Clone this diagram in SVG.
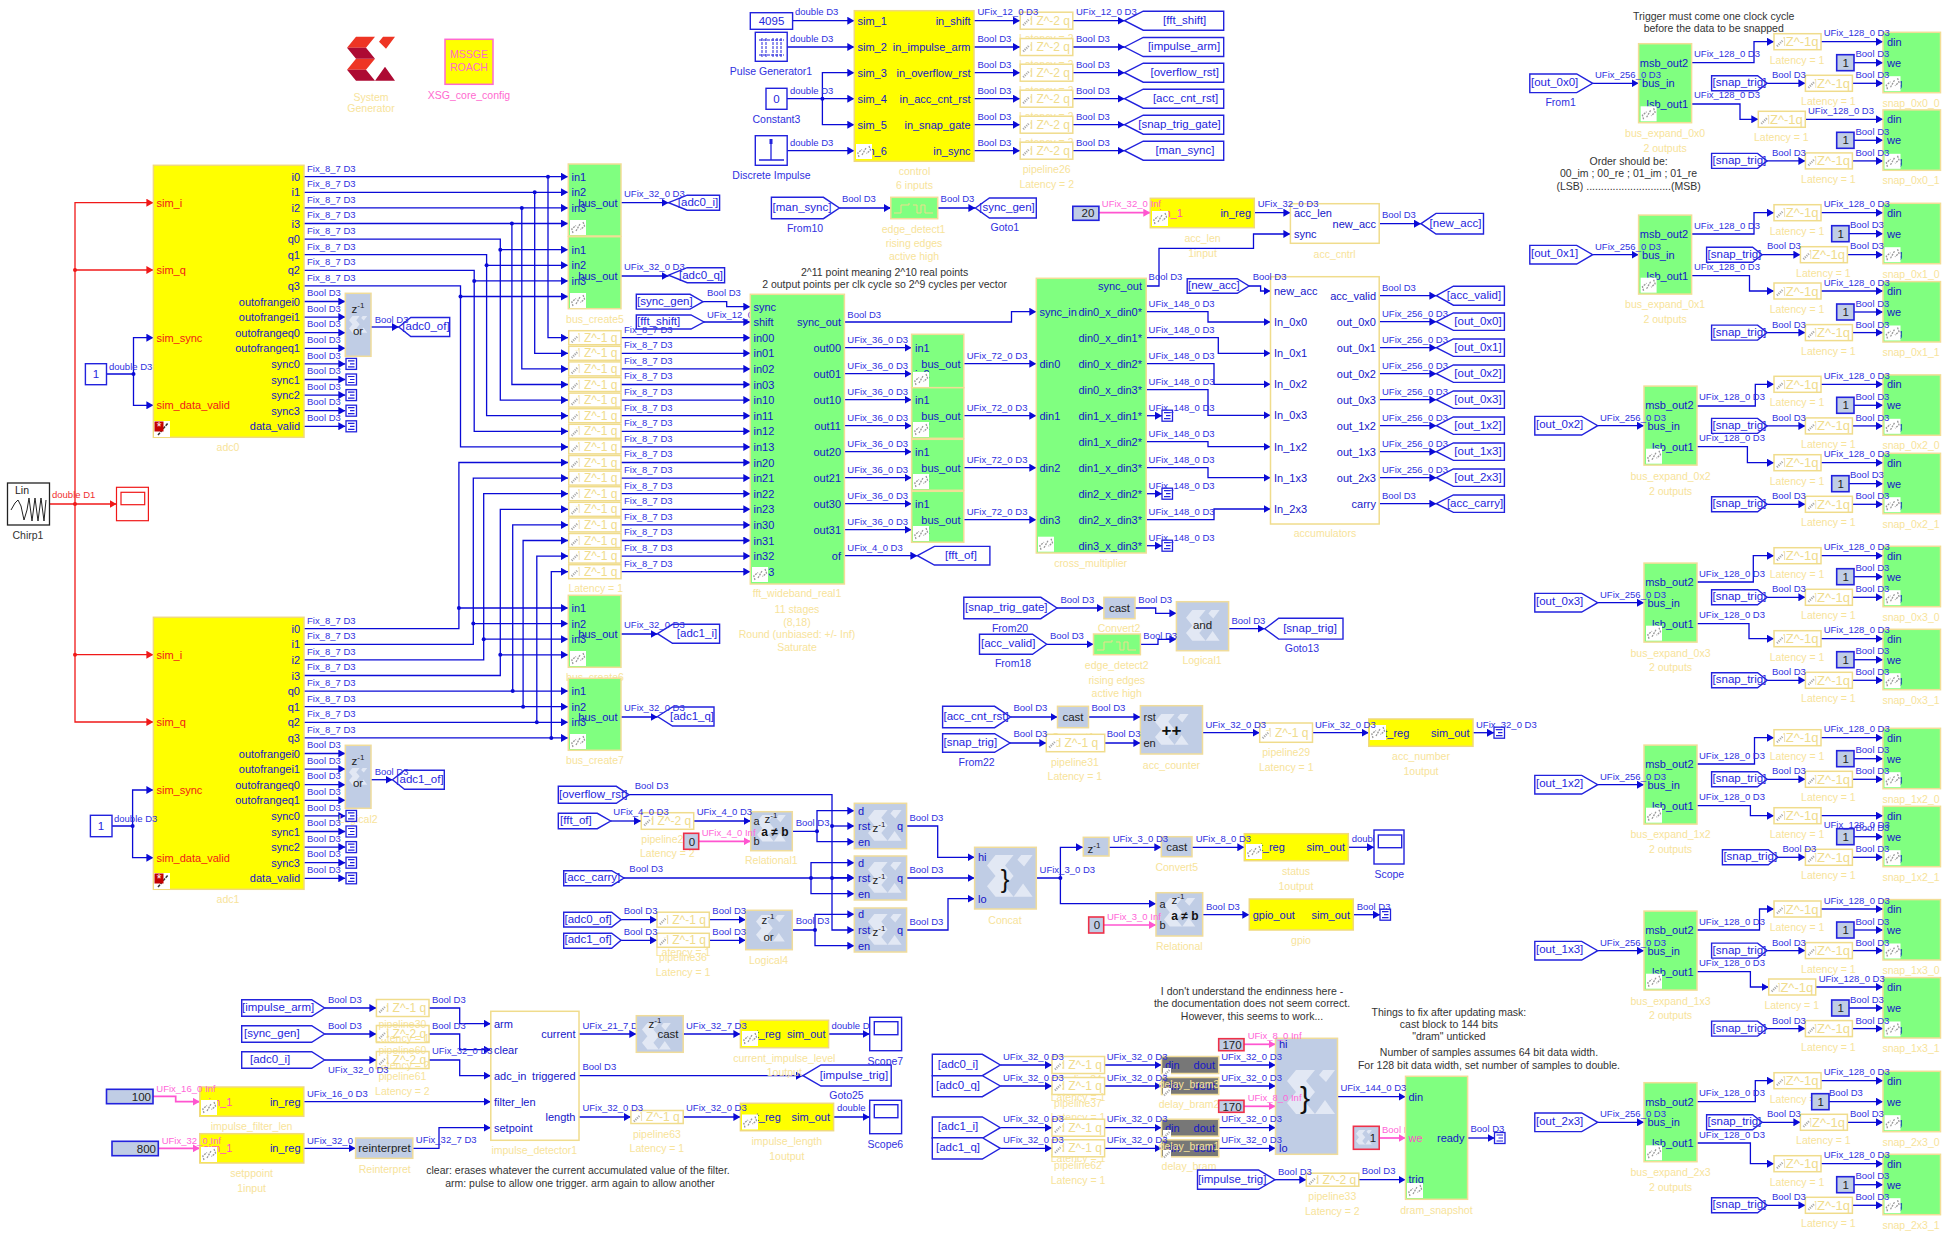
<svg xmlns="http://www.w3.org/2000/svg" width="1954" height="1240" viewBox="0 0 1954 1240">
<style>
text{font-family:"Liberation Sans",Arial,sans-serif;dominant-baseline:central}
.c path{fill:none;stroke:#0a0ad6;stroke-width:1.3;marker-end:url(#ab)}
.cr path{fill:none;stroke:#f01818;stroke-width:1.3;marker-end:url(#ar)}
.cq path{fill:none;stroke:#ff55d0;stroke-width:1.7;marker-end:url(#ap)}
.j{fill:#0a0ad6}
.w text{font-size:9.5px;fill:#3030e0}
.wq text{font-size:9.5px;fill:#ff66d8}
.wr text{font-size:9.5px;fill:#f03030}
.p{font-size:11px;fill:#1515c8}
.e{text-anchor:end}
.o{font-size:11px;fill:#f01818}
.l{font-size:10.5px;fill:#f7e39a;text-anchor:middle}
.b{font-size:10.5px;fill:#3030e0;text-anchor:middle}
.k{font-size:10.5px;fill:#333;text-anchor:middle}
.t{font-size:11.5px;fill:#2525dd;text-anchor:middle}
.s{text-anchor:start}
.z{font-size:12px;fill:#f0dc8c;text-anchor:middle}
.pb + .z{font-size:13px}
.n{font-size:11.5px;fill:#222;text-anchor:middle}
.n.e{text-anchor:end}
.y{fill:#ff0;stroke:#f0d97c;stroke-width:1.5}
.g{fill:#80ff80;stroke:#f2dd96;stroke-width:1.5}
.x{fill:#c0cde5;stroke:#f0dc9a;stroke-width:1.5}
.u{fill:#fff;stroke:#f0dc8c;stroke-width:1.5}
.a{fill:#fff;stroke:#2222dd;stroke-width:1.4}
.f{fill:#c0cde5;stroke:#2222dd;stroke-width:1.6}
.h{fill:#c0cde5;stroke:#ee3048;stroke-width:1.6}
.d{fill:#777;stroke:#f0dc9a;stroke-width:1.5}
.pa{x:0;y:-7px;width:52.3px;height:14px}
.pc{x:0;y:-8.5px;width:52.6px;height:17px}
.pb{x:0;y:-8px;width:47px;height:16px}
.sn{x:0;y:-9.4px;width:57.5px;height:60.4px}
.cn{x:0;y:-8px;width:17.3px;height:16px}
.be{x:0;y:-39.6px;width:53px;height:79px}
.gb{x:0;y:-8.5px;width:57.2px;height:17px}
</style>
<defs>
<marker id="ab" markerUnits="userSpaceOnUse" markerWidth="8" markerHeight="8" refX="7" refY="4" orient="auto"><path d="M0 0 7 4 0 8z" fill="#0a0ad6"/></marker>
<marker id="ar" markerUnits="userSpaceOnUse" markerWidth="8" markerHeight="8" refX="7" refY="4" orient="auto"><path d="M0 0 7 4 0 8z" fill="#f01818"/></marker>
<marker id="ap" markerUnits="userSpaceOnUse" markerWidth="8" markerHeight="8" refX="7" refY="4" orient="auto"><path d="M0 0 7 4 0 8z" fill="#ff55d0"/></marker>
<g id="lk"><rect width="16" height="15" fill="#fff"/><path d="M3 13 1.8 9 6 5.5M13 2l1.5 4-4 3.5M6 11l4-7" fill="none" stroke="#999" stroke-width="1.3" stroke-dasharray="2 1"/></g>
<g id="m"><rect x="0" y="-1" width="8" height="8" fill="#fff"/><path d="M1 6.5 7 .5" fill="none" stroke="#aaa" stroke-width="2.2" stroke-dasharray="1.2 1"/></g>
<path id="sx" d="M9 0H28L19 11H0ZM0 11H19L28 22H9ZM9 22H28L19 33H0ZM0 33H19L28 44H9ZM36 0H48L39 12 32 5ZM28 44 38 30 48 44Z" fill="#e2e8f4"/>
<g id="tm"><rect width="10.5" height="11" fill="#fff" stroke="#2222dd" stroke-width="1.3"/><path d="M2 2.5H8.5M4 5.5H8.5M2 8.5H8.5" stroke="#2222dd" stroke-width="1.2"/></g>
<path id="ed" d="M3 15H10V7H18V5M22 7H26V15H30V7H34V15H42" fill="none" stroke="#f0dc8c" stroke-width="1"/>
</defs>
<rect width="1954" height="1240" fill="#fff"/>
<g id="connectors">
<g class="cr"><path d="M49.7 504H116.5"/><path d="M75 504V202.7H153.4"/><path d="M75 270H153.4"/><path d="M75 504V722H153.4"/><path d="M75 654.7H153.4"/></g>
<circle cx="75" cy="270" r="2" fill="#f01818"/><circle cx="75" cy="504" r="2" fill="#f01818"/><circle cx="75" cy="654.7" r="2" fill="#f01818"/>
<g class="cq">
<path d="M1098.9 212.7H1150.3"/><path d="M153 1096.3H175.7V1101.7H199.8"/><path d="M158.3 1148.3H199.8"/><path d="M698.7 841.3H750.7"/><path d="M1103.7 925H1156"/><path d="M1244 1044.3H1275.5"/><path d="M1244 1106.3H1275.5"/><path d="M1379.2 1138H1405.5"/>
</g>
<g class="c">
<path d="M106.5 374H133.5V337.7H153.4"/><path d="M133.5 374V405.3H153.4"/><path d="M112 826H132.6V790H153.4"/><path d="M132.6 826V857.7H153.4"/>
<path d="M304 176.7H568"/><path d="M548 176.7V337.7H568"/>
<path d="M304 192.3H568"/><path d="M534.7 192.3V353.3H568"/>
<path d="M304 207.9H568"/><path d="M521.8 207.9V368.9H568"/>
<path d="M304 223.5H568"/><path d="M511.9 223.5V384.5H568"/>
<path d="M304 239.1H500.3V400.1H568"/><path d="M500.3 249.7H568"/>
<path d="M304 254.7H486.6V415.7H568"/><path d="M486.6 265.3H568"/>
<path d="M304 270.3H474.2V431.3H568"/><path d="M474.2 280.9H568"/>
<path d="M304 285.9H460.5V446.9H568"/><path d="M460.5 296.5H568"/>
<path d="M304 628.7H458.9V462.5H568"/><path d="M458.9 608H568"/>
<path d="M304 644.3H473.3V478.1H568"/><path d="M473.3 623.6H568"/>
<path d="M304 659.9H483.7V493.7H568"/><path d="M483.7 639.2H568"/>
<path d="M304 675.5H500.3V509.3H568"/><path d="M500.3 654.8H568"/>
<path d="M304 691.1H568"/><path d="M512.7 691.1V524.9H568"/>
<path d="M304 706.7H568"/><path d="M523.1 706.7V540.5H568"/>
<path d="M304 722.3H568"/><path d="M536.8 722.3V556.1H568"/>
<path d="M304 737.9H568"/><path d="M551.3 737.9V571.7H568"/>
<path d="M304 301.5H345.3"/><path d="M304 317.1H345.3"/><path d="M304 332.7H345.3"/><path d="M304 348.3H345.3"/><path d="M304 363.9H345.3"/><path d="M304 379.5H345.3"/><path d="M304 395.1H345.3"/><path d="M304 410.7H345.3"/><path d="M304 426.3H345.3"/>
<path d="M304 753.5H345.3"/><path d="M304 769.1H345.3"/><path d="M304 784.7H345.3"/><path d="M304 800.3H345.3"/><path d="M304 815.9H345.3"/><path d="M304 831.5H345.3"/><path d="M304 847.1H345.3"/><path d="M304 862.7H345.3"/><path d="M304 878.3H345.3"/>
<path d="M371 327H398.8"/><path d="M371 779.7H392.5"/>
<path d="M621 202.7H668.6"/><path d="M621 276H668.6"/><path d="M621 634H657.5"/><path d="M621 717H657.5"/>
<path d="M621 337.7H750.3"/><path d="M621 353.3H750.3"/><path d="M621 368.9H750.3"/><path d="M621 384.5H750.3"/><path d="M621 400.1H750.3"/><path d="M621 415.7H750.3"/><path d="M621 431.3H750.3"/><path d="M621 446.9H750.3"/><path d="M621 462.5H750.3"/><path d="M621 478.1H750.3"/><path d="M621 493.7H750.3"/><path d="M621 509.3H750.3"/><path d="M621 524.9H750.3"/><path d="M621 540.5H750.3"/><path d="M621 556.1H750.3"/><path d="M621 571.7H750.3"/>
<path d="M703 301.7H726.7V306.7H750.3"/><path d="M704 322H750.3"/>
<path d="M792.6 20.7H854.3"/><path d="M787.2 47H854.3"/><path d="M787 98.7H854.3"/><path d="M822.4 98.7V72.7H854.3"/><path d="M822.4 98.7V124.7H854.3"/><path d="M787.2 150.7H854.3"/>
<path d="M974 20.7H1020"/><path d="M974 47H1020"/><path d="M974 72.7H1020"/><path d="M974 98.7H1020"/><path d="M974 124.7H1020"/><path d="M974 150.7H1020"/>
<path d="M1072.8 20.7H1124.6"/><path d="M1072.8 47H1124.6"/><path d="M1072.8 72.7H1124.6"/><path d="M1072.8 98.7H1124.6"/><path d="M1072.8 124.7H1124.6"/><path d="M1072.8 150.7H1124.6"/>
<path d="M839.4 208H890.8"/><path d="M937.7 208H975.4"/>
<path d="M1254.3 212.7H1290.4"/><path d="M1379.2 223.7H1421"/>
<path d="M1146 286H1159V248.3H1253.5V234H1290.4"/>
<path d="M844.4 322H1011.5V311.7H1036.3"/>
<path d="M844.4 347.7H911.6"/><path d="M844.4 373.7H911.6"/><path d="M844.4 399.7H911.6"/><path d="M844.4 425.7H911.6"/><path d="M844.4 451.7H911.6"/><path d="M844.4 477.7H911.6"/><path d="M844.4 503.7H911.6"/><path d="M844.4 529.7H911.6"/><path d="M844.4 555.7H917.4"/>
<path d="M963.8 363.7H1036.3"/><path d="M963.8 415.7H1036.3"/><path d="M963.8 467.7H1036.3"/><path d="M963.8 519.7H1036.3"/>
<path d="M1146.2 311.7H1208V322H1270.5"/><path d="M1146.2 337.7H1218.3V353.3H1270.5"/><path d="M1146.2 363.7H1214V384.3H1270.5"/><path d="M1146.2 389.7H1208V415.3H1270.5"/><path d="M1146.2 415.7H1162"/><path d="M1146.2 441.7H1208V446.7H1270.5"/><path d="M1146.2 467.7H1208V477.7H1270.5"/><path d="M1146.2 493.7H1162"/><path d="M1146.2 519.7H1214V509H1270.5"/><path d="M1146.2 545.7H1162"/>
<path d="M1249 286H1260.6V291H1270.5"/>
<path d="M1379.2 295.7H1436.4"/><path d="M1379.2 321.7H1436.4"/><path d="M1379.2 347.7H1436.4"/><path d="M1379.2 373.7H1436.4"/><path d="M1379.2 399.7H1436.4"/><path d="M1379.2 425.7H1436.4"/><path d="M1379.2 451.7H1436.4"/><path d="M1379.2 477.7H1436.4"/><path d="M1379.2 503.7H1436.4"/>
<path d="M1057 608H1103.9"/><path d="M1135 608H1155.7V613.3H1176.4"/><path d="M1046.7 644.3H1093.5"/><path d="M1140.4 644.3H1158V639.3H1176.4"/><path d="M1228.6 628.7H1264.7"/>
<path d="M1010.6 717H1057.5"/><path d="M1088.5 717H1140.4"/><path d="M1010 743H1046.3"/><path d="M1104.7 743H1140.4"/><path d="M1202.5 732.7H1259.7"/><path d="M1312.5 732.7H1368.8"/><path d="M1473 732.7H1494"/>
<path d="M629 794.7H832V930H854.3"/><path d="M832 826H854.3"/><path d="M832 877.7H854.3"/>
<path d="M610.7 821H641"/><path d="M693.7 821H750.7"/><path d="M792.3 831.3H817V810.7H854.3"/><path d="M817 831.3V841.7H854.3"/>
<path d="M624 878H854.3"/><path d="M811 878V862.7H854.3"/><path d="M811 878V893.7H854.3"/>
<path d="M621 919.7H657"/><path d="M621 940.3H657"/><path d="M709.3 919.7H745.7"/><path d="M709.3 940.3H745.7"/>
<path d="M792.3 930H815V914.3H854.3"/><path d="M815 930V945.7H854.3"/>
<path d="M906.6 826H937.7V857.3H974.6"/><path d="M906.6 878H974.6"/><path d="M906.6 930H948V898.7H974.6"/>
<path d="M1036.3 878H1060.4V847.3H1083"/><path d="M1060.4 878V903.7H1156"/><path d="M1109 847.3H1161.3"/><path d="M1192 847.3H1244.3"/><path d="M1348.3 847.3H1374"/>
<path d="M1202.7 914.7H1249.3"/><path d="M1353.3 914.7H1380"/>
<path d="M324.6 1008H376.4"/><path d="M324.6 1034H376.4"/><path d="M324.6 1060H376.4"/>
<path d="M429 1008H459.7V1023.7H490.8"/><path d="M429 1034H459.7V1049.7H490.8"/><path d="M429 1060H459.7V1075.7H490.8"/>
<path d="M303.8 1101.7H490.8"/><path d="M303.8 1148.3H355.6"/><path d="M412.8 1148.3H439V1127.7H490.8"/>
<path d="M579 1034H636.3"/><path d="M683.2 1034H740.4"/><path d="M828.6 1034H869.7"/>
<path d="M579 1075.7H803"/><path d="M579 1117H630.9"/><path d="M683.2 1117H740.4"/><path d="M833.6 1117H869.7"/>
<path d="M1000.3 1065H1052"/><path d="M1000.3 1086H1052"/><path d="M1000.3 1127.7H1052"/><path d="M1000.3 1148.3H1052"/>
<path d="M1104.7 1065H1161.5"/><path d="M1104.7 1086H1161.5"/><path d="M1104.7 1127.7H1161.5"/><path d="M1104.7 1148.3H1161.5"/>
<path d="M1218.7 1065H1275.5"/><path d="M1218.7 1086H1275.5"/><path d="M1218.7 1127.7H1275.5"/><path d="M1218.7 1148.3H1275.5"/>
<path d="M1275 1179.7H1306.3"/><path d="M1358.8 1179.7H1405.5"/><path d="M1337.5 1096.7H1405.5"/><path d="M1467.6 1138H1494.7"/>
<path d="M1592.7 83.3H1638.6"/><path d="M1592.7 254.7H1638.6"/><path d="M1597.7 425.7H1644"/><path d="M1597.7 602.7H1644"/><path d="M1597.7 784.7H1644"/><path d="M1597.7 950.7H1644"/><path d="M1597.7 1122.3H1644"/>
<path d="M1691.6 62.7H1754V41.7H1774"/><path d="M1691.6 104H1740V119.3H1758.3"/>
<path d="M1691.6 234H1754V212.7H1774"/><path d="M1691.6 275.7H1749.5V291H1774"/>
<path d="M1696.6 406H1755.3V384.3H1774"/><path d="M1696.6 446.7H1747.4V462.7H1774"/>
<path d="M1696.6 582H1753.3V555.7H1774"/><path d="M1696.6 623.7H1749V638.7H1774"/>
<path d="M1696.6 764H1754.5V737.7H1774"/><path d="M1696.6 805.7H1750.4V815.7H1774"/>
<path d="M1696.6 930H1759.5V909H1774"/><path d="M1696.6 971.7H1750.4V987H1768.7"/>
<path d="M1696.6 1101.7H1755.3V1080.7H1774"/><path d="M1696.6 1143H1750.4V1163.7H1774"/>
<g transform="translate(0,41.7)"><path d="M1821 0H1883"/><path d="M1854 21H1883"/><path d="M1767 41.6H1805.4"/><path d="M1852.4 41.6H1883"/></g>
<g transform="translate(0,119.3)"><path d="M1805.3 0H1883"/><path d="M1854 21H1883"/><path d="M1767 41.6H1805.4"/><path d="M1852.4 41.6H1883"/></g>
<g transform="translate(0,212.7)"><path d="M1821 0H1883"/><path d="M1849 21H1883"/><path d="M1762 42H1800.4"/><path d="M1847.4 42H1883"/></g>
<g transform="translate(0,291)"><path d="M1821 0H1883"/><path d="M1854 21H1883"/><path d="M1767 41.6H1805.4"/><path d="M1852.4 41.6H1883"/></g>
<g transform="translate(0,384.3)"><path d="M1821 0H1883"/><path d="M1854 21H1883"/><path d="M1767 41.6H1805.4"/><path d="M1852.4 41.6H1883"/></g>
<g transform="translate(0,462.7)"><path d="M1821 0H1883"/><path d="M1849 21H1883"/><path d="M1767 41.6H1805.4"/><path d="M1852.4 41.6H1883"/></g>
<g transform="translate(0,555.7)"><path d="M1821 0H1883"/><path d="M1854 21H1883"/><path d="M1767 41.6H1805.4"/><path d="M1852.4 41.6H1883"/></g>
<g transform="translate(0,638.7)"><path d="M1821 0H1883"/><path d="M1854 21H1883"/><path d="M1767 41.6H1805.4"/><path d="M1852.4 41.6H1883"/></g>
<g transform="translate(0,737.7)"><path d="M1821 0H1883"/><path d="M1854 21H1883"/><path d="M1767 41.6H1805.4"/><path d="M1852.4 41.6H1883"/></g>
<g transform="translate(0,815.7)"><path d="M1821 0H1883"/><path d="M1854 21H1883"/><path d="M1778 41.6H1805.4"/><path d="M1852.4 41.6H1883"/></g>
<g transform="translate(0,909)"><path d="M1821 0H1883"/><path d="M1854 21H1883"/><path d="M1767 41.6H1805.4"/><path d="M1852.4 41.6H1883"/></g>
<g transform="translate(0,987)"><path d="M1815.7 0H1883"/><path d="M1849 21H1883"/><path d="M1767 41.6H1805.4"/><path d="M1852.4 41.6H1883"/></g>
<g transform="translate(0,1080.7)"><path d="M1821 0H1883"/><path d="M1829 21H1883"/><path d="M1762 41.6H1800.4"/><path d="M1847.4 41.6H1883"/></g>
<g transform="translate(0,1163.7)"><path d="M1821 0H1883"/><path d="M1854 21H1883"/><path d="M1767 41.6H1805.4"/><path d="M1852.4 41.6H1883"/></g>
</g>
<g class="j">
<circle cx="133.5" cy="374" r="2"/><circle cx="132.6" cy="826" r="2"/>
<circle cx="548" cy="176.7" r="2"/><circle cx="534.7" cy="192.3" r="2"/><circle cx="521.8" cy="207.9" r="2"/><circle cx="511.9" cy="223.5" r="2"/><circle cx="500.3" cy="249.7" r="2"/><circle cx="486.6" cy="265.3" r="2"/><circle cx="474.2" cy="280.9" r="2"/><circle cx="460.5" cy="296.5" r="2"/>
<circle cx="458.9" cy="608" r="2"/><circle cx="473.3" cy="623.6" r="2"/><circle cx="483.7" cy="639.2" r="2"/><circle cx="500.3" cy="654.8" r="2"/><circle cx="512.7" cy="691.1" r="2"/><circle cx="523.1" cy="706.7" r="2"/><circle cx="536.8" cy="722.3" r="2"/><circle cx="551.3" cy="737.9" r="2"/>
<circle cx="822.4" cy="98.7" r="2"/><circle cx="832" cy="826" r="2"/><circle cx="832" cy="878" r="2"/><circle cx="817" cy="831.3" r="2"/><circle cx="811" cy="878" r="2"/><circle cx="815" cy="930" r="2"/><circle cx="1060.4" cy="878" r="2"/>
</g>
<text x="707" y="314" style="font-size:9.5px;fill:#3030e0">UFix_12_0 D3</text>
<text x="582.4" y="1025" style="font-size:9.5px;fill:#3030e0">UFix_21_7 D3</text>
<text x="831.5" y="1025" style="font-size:9.5px;fill:#3030e0">double D3</text>
<text x="837" y="1107.7" style="font-size:9.5px;fill:#3030e0">double D3</text>
<text x="1351.7" y="838" style="font-size:9.5px;fill:#3030e0">double D3</text>
<text x="307" y="1140" style="font-size:9.5px;fill:#3030e0">UFix_32_0 D3</text>
<text x="1382" y="1129" style="font-size:9.5px;fill:#ff66d8">Bool D3</text>
</g>

<g id="system_generator"><g transform="translate(347,36.7)"><path d="M9 0H28L19 11H0ZM9 22H28L19 33H0ZM36 0H48L39 12 32 5Z" fill="#ee3524"/><path d="M0 11H19L28 22H9ZM0 33H19L28 44H9ZM28 44 38 30 48 44Z" fill="#ad0a33"/></g><text class="l" x="371" y="96.7">System</text><text class="l" x="371" y="108.3">Generator</text></g>
<g id="xsg_core_config"><rect x="445" y="39.3" width="48" height="45" fill="#ff0" stroke="#ff69d0" stroke-width="1.5"/><text x="469" y="54" style="font-size:10.5px;fill:#ff69d0;text-anchor:middle">MSSGE</text><text x="469" y="67" style="font-size:10.5px;fill:#ff69d0;text-anchor:middle">ROACH</text><text x="469" y="94.7" style="font-size:10.5px;fill:#ff69d0;text-anchor:middle">XSG_core_config</text></g>

<g id="chirp1"><rect x="7.5" y="483" width="42" height="42" fill="#fff" stroke="#222" stroke-width="1.3"/><text x="15" y="490" style="font-size:10.5px;fill:#222">Lin</text><path d="M11 510 15 503 18 500 21 506 24 520 27 510 29 498 32 521 35 498 38 521 41 498 44 521 46 500" fill="none" stroke="#222"/><text class="k" x="28" y="534.5">Chirp1</text></g>
<g id="scope_chirp"><rect x="116.5" y="487.3" width="31.9" height="33.4" fill="#fff" stroke="#f01818" stroke-width="1.2"/><rect x="121" y="492.3" width="23.7" height="12.4" fill="#fff" stroke="#f01818" stroke-width="1.2"/></g>

<g id="adc0"><rect class="y" x="153.4" y="165.3" width="150.6" height="272"/><g class="o"><text x="156.5" y="202.7">sim_i</text><text x="156.5" y="270">sim_q</text><text x="156.5" y="337.7">sim_sync</text><text x="156.5" y="405.3">sim_data_valid</text></g>
<g class="p e"><text x="300" y="176.7">i0</text><text x="300" y="192.3">i1</text><text x="300" y="207.9">i2</text><text x="300" y="223.5">i3</text><text x="300" y="239.1">q0</text><text x="300" y="254.7">q1</text><text x="300" y="270.3">q2</text><text x="300" y="285.9">q3</text><text x="300" y="301.5">outofrangei0</text><text x="300" y="317.1">outofrangei1</text><text x="300" y="332.7">outofrangeq0</text><text x="300" y="348.3">outofrangeq1</text><text x="300" y="363.9">sync0</text><text x="300" y="379.5">sync1</text><text x="300" y="395.1">sync2</text><text x="300" y="410.7">sync3</text><text x="300" y="426.3">data_valid</text></g>
<rect x="154" y="421" width="16" height="16" fill="#fff"/><path d="M158 435 168 423" stroke="#333" stroke-width="1.5" stroke-dasharray="3 1"/><rect x="154.5" y="421.5" width="9" height="10" fill="#c40000"/><text x="159" y="427" style="font-size:12px;fill:#fff;text-anchor:middle">*</text><text class="l" x="228" y="447.3">adc0</text></g>
<g id="adc1"><rect class="y" x="153.4" y="617.3" width="150.6" height="272"/><g class="o"><text x="156.5" y="654.7">sim_i</text><text x="156.5" y="722">sim_q</text><text x="156.5" y="790">sim_sync</text><text x="156.5" y="857.7">sim_data_valid</text></g>
<g class="p e"><text x="300" y="628.7">i0</text><text x="300" y="644.3">i1</text><text x="300" y="659.9">i2</text><text x="300" y="675.5">i3</text><text x="300" y="691.1">q0</text><text x="300" y="706.7">q1</text><text x="300" y="722.3">q2</text><text x="300" y="737.9">q3</text><text x="300" y="753.5">outofrangei0</text><text x="300" y="769.1">outofrangei1</text><text x="300" y="784.7">outofrangeq0</text><text x="300" y="800.3">outofrangeq1</text><text x="300" y="815.9">sync0</text><text x="300" y="831.5">sync1</text><text x="300" y="847.1">sync2</text><text x="300" y="862.7">sync3</text><text x="300" y="878.3">data_valid</text></g>
<rect x="154" y="873" width="16" height="16" fill="#fff"/><path d="M158 887 168 875" stroke="#333" stroke-width="1.5" stroke-dasharray="3 1"/><rect x="154.5" y="873.5" width="9" height="10" fill="#c40000"/><text x="159" y="879" style="font-size:12px;fill:#fff;text-anchor:middle">*</text><text class="l" x="228" y="899.3">adc1</text></g>
<g id="const_adc0"><rect class="a" x="85.4" y="363.7" width="21.1" height="21"/><text class="t" x="96" y="374">1</text></g>
<g id="const_adc1"><rect class="a" x="90.4" y="815.3" width="21.6" height="21.4"/><text class="t" x="101" y="826">1</text></g>
<g id="term_a"><use href="#tm" x="346" y="358.4"/><use href="#tm" x="346" y="374"/><use href="#tm" x="346" y="389.6"/><use href="#tm" x="346" y="405.2"/><use href="#tm" x="346" y="420.8"/></g>
<g id="term_b"><text class="l" x="358" y="818.7">Logical2</text><use href="#tm" x="346" y="810.4"/><use href="#tm" x="346" y="826"/><use href="#tm" x="346" y="841.6"/><use href="#tm" x="346" y="857.2"/><use href="#tm" x="346" y="872.8"/></g>
<g id="logical0"><rect class="x" x="345.3" y="293.3" width="25.7" height="63"/><use href="#sx" transform="translate(349,316) scale(.38)"/><text class="n" x="358" y="309">z<tspan dy="-4" font-size="8">-1</tspan></text><text class="n" x="358" y="331">or</text></g>
<g id="logical2"><rect class="x" x="345.3" y="745.3" width="25.7" height="63"/><use href="#sx" transform="translate(349,768) scale(.38)"/><text class="n" x="358" y="761">z<tspan dy="-4" font-size="8">-1</tspan></text><text class="n" x="358" y="783">or</text></g>
<g id="goto_adc0_of"><path class="a" d="M398.8 327l12-9.5h38.9v19h-38.9z"/><text class="t" x="426" y="326">[adc0_of]</text></g>
<g id="goto_adc1_of"><path class="a" d="M392.5 779.7l12-9.5h39.8v19h-39.8z"/><text class="t" x="420" y="778.7">[adc1_of]</text></g>

<g id="bus_create4"><rect class="g" x="568.3" y="164" width="52.7" height="72"/><g class="p"><text x="571.5" y="176.7">in1</text><text x="571.5" y="192.3">in2</text><text x="571.5" y="207.9">in3</text></g><text class="p e" x="617.5" y="202.7">bus_out</text><use href="#lk" x="570" y="220"/></g>
<g id="bus_create5"><rect class="g" x="568.3" y="236.7" width="52.7" height="72"/><g class="p"><text x="571.5" y="249.7">in1</text><text x="571.5" y="265.3">in2</text><text x="571.5" y="280.9">in3</text></g><text class="p e" x="617.5" y="276">bus_out</text><use href="#lk" x="570" y="293"/><text class="l" x="595" y="318.7">bus_create5</text></g>
<g id="bus_create6"><text class="l" x="595" y="677">bus_create6</text><rect class="g" x="568.3" y="595.3" width="52.7" height="72"/><g class="p"><text x="571.5" y="608">in1</text><text x="571.5" y="623.6">in2</text><text x="571.5" y="639.2">in3</text></g><text class="p e" x="617.5" y="634">bus_out</text><use href="#lk" x="570" y="651"/></g>
<g id="bus_create7"><rect class="g" x="568.3" y="678.3" width="52.7" height="72"/><g class="p"><text x="571.5" y="691.1">in1</text><text x="571.5" y="706.7">in2</text><text x="571.5" y="722.3">in3</text></g><text class="p e" x="617.5" y="717">bus_out</text><use href="#lk" x="570" y="734"/><text class="l" x="595" y="760.3">bus_create7</text></g>
<g id="goto_adc0_i"><path class="a" d="M668.6 202.7l18.6-7.5h32.4v15h-32.4z"/><text class="t" x="698" y="202">[adc0_i]</text></g>
<g id="goto_adc0_q"><path class="a" d="M668.6 275.2l18.6-7.5h37.4v15h-37.4z"/><text class="t" x="701" y="274.5">[adc0_q]</text></g>
<g id="goto_adc1_i"><path class="a" d="M657.5 633.7l15-9.4h47.1v19h-47.1z"/><text class="t" x="697" y="632.5">[adc1_i]</text></g>
<g id="goto_adc1_q"><path class="a" d="M657.5 716.5l15-9.5h41.5v19h-41.5z"/><text class="t" x="692" y="715.5">[adc1_q]</text></g>

<g id="pipes_a">
<g transform="translate(568.7,337.7)"><rect class="u pa"/><text class="z" x="27">d Z^-1 q</text><use href="#m" x="2" y="-2"/></g>
<g transform="translate(568.7,353.3)"><rect class="u pa"/><text class="z" x="27">d Z^-1 q</text><use href="#m" x="2" y="-2"/></g>
<g transform="translate(568.7,368.9)"><rect class="u pa"/><text class="z" x="27">d Z^-1 q</text><use href="#m" x="2" y="-2"/></g>
<g transform="translate(568.7,384.5)"><rect class="u pa"/><text class="z" x="27">d Z^-1 q</text><use href="#m" x="2" y="-2"/></g>
<g transform="translate(568.7,400.1)"><rect class="u pa"/><text class="z" x="27">d Z^-1 q</text><use href="#m" x="2" y="-2"/></g>
<g transform="translate(568.7,415.7)"><rect class="u pa"/><text class="z" x="27">d Z^-1 q</text><use href="#m" x="2" y="-2"/></g>
<g transform="translate(568.7,431.3)"><rect class="u pa"/><text class="z" x="27">d Z^-1 q</text><use href="#m" x="2" y="-2"/></g>
<g transform="translate(568.7,446.9)"><rect class="u pa"/><text class="z" x="27">d Z^-1 q</text><use href="#m" x="2" y="-2"/></g>
<g transform="translate(568.7,462.5)"><rect class="u pa"/><text class="z" x="27">d Z^-1 q</text><use href="#m" x="2" y="-2"/></g>
<g transform="translate(568.7,478.1)"><rect class="u pa"/><text class="z" x="27">d Z^-1 q</text><use href="#m" x="2" y="-2"/></g>
<g transform="translate(568.7,493.7)"><rect class="u pa"/><text class="z" x="27">d Z^-1 q</text><use href="#m" x="2" y="-2"/></g>
<g transform="translate(568.7,509.3)"><rect class="u pa"/><text class="z" x="27">d Z^-1 q</text><use href="#m" x="2" y="-2"/></g>
<g transform="translate(568.7,524.9)"><rect class="u pa"/><text class="z" x="27">d Z^-1 q</text><use href="#m" x="2" y="-2"/></g>
<g transform="translate(568.7,540.5)"><rect class="u pa"/><text class="z" x="27">d Z^-1 q</text><use href="#m" x="2" y="-2"/></g>
<g transform="translate(568.7,556.1)"><rect class="u pa"/><text class="z" x="27">d Z^-1 q</text><use href="#m" x="2" y="-2"/></g>
<g transform="translate(568.7,571.7)"><rect class="u pa"/><text class="z" x="27">d Z^-1 q</text><use href="#m" x="2" y="-2"/><text class="l" x="27" y="16">Latency = 1</text></g>
</g>

<g id="const_4095"><rect class="a" x="750.3" y="12.7" width="42.3" height="16.6"/><text class="t" x="771.5" y="20.7">4095</text></g>
<g id="pulse_generator1"><rect class="a" x="755.3" y="32.3" width="31.9" height="29"/><path d="M759 40H784M759 55H784M762 38V58M766 38V58M773 38V58M777 38V58M781 38V58" stroke="#2222dd" fill="none" stroke-dasharray="3 1"/><text class="b" x="771" y="71.3">Pulse Generator1</text></g>
<g id="constant3"><rect class="a" x="766" y="88.3" width="21" height="21"/><text class="t" x="776.5" y="98.7">0</text><text class="b" x="776.4" y="119.3">Constant3</text></g>
<g id="discrete_impulse"><rect class="a" x="755.3" y="135.7" width="31.9" height="29.6"/><path d="M771 142V160M759 160H784" stroke="#2222dd" stroke-width="1.3" fill="none"/><rect x="769.5" y="139" width="3" height="5" fill="#2222dd"/><text class="b" x="771.4" y="175.3">Discrete  Impulse</text></g>
<g id="control"><rect class="y" x="854.3" y="10.7" width="119.7" height="150.6"/><g class="p"><text x="857.5" y="20.7">sim_1</text><text x="857.5" y="47">sim_2</text><text x="857.5" y="72.7">sim_3</text><text x="857.5" y="98.7">sim_4</text><text x="857.5" y="124.7">sim_5</text><text x="857.5" y="150.7">sim_6</text></g><g class="p e"><text x="970.5" y="20.7">in_shift</text><text x="970.5" y="47">in_impulse_arm</text><text x="970.5" y="72.7">in_overflow_rst</text><text x="970.5" y="98.7">in_acc_cnt_rst</text><text x="970.5" y="124.7">in_snap_gate</text><text x="970.5" y="150.7">in_sync</text></g><use href="#lk" x="856" y="144"/><text class="l" x="914.5" y="170.7">control</text><text class="l" x="914.5" y="185.3">6 inputs</text></g>
<g id="pipeline21" transform="translate(1020.2,20.7)"><text class="l" x="26" y="17">Latency = 2</text><rect class="u pc"/><text class="z" x="28">d Z^-2 q</text><use href="#m" x="2" y="-2"/></g>
<g id="pipeline22" transform="translate(1020.2,47)"><text class="l" x="26" y="17">Latency = 2</text><rect class="u pc"/><text class="z" x="28">d Z^-2 q</text><use href="#m" x="2" y="-2"/></g>
<g id="pipeline23" transform="translate(1020.2,72.7)"><text class="l" x="26" y="17">Latency = 2</text><rect class="u pc"/><text class="z" x="28">d Z^-2 q</text><use href="#m" x="2" y="-2"/></g>
<g id="pipeline24" transform="translate(1020.2,98.7)"><text class="l" x="26" y="17">Latency = 2</text><rect class="u pc"/><text class="z" x="28">d Z^-2 q</text><use href="#m" x="2" y="-2"/></g>
<g id="pipeline25" transform="translate(1020.2,124.7)"><text class="l" x="26" y="17">Latency = 2</text><rect class="u pc"/><text class="z" x="28">d Z^-2 q</text><use href="#m" x="2" y="-2"/></g>
<g id="pipeline26" transform="translate(1020.2,150.7)"><rect class="u pc"/><text class="z" x="28">d Z^-2 q</text><use href="#m" x="2" y="-2"/><text class="l" x="26.5" y="18">pipeline26</text><text class="l" x="26.5" y="33">Latency = 2</text></g>
<g id="goto_fft_shift"><path class="a" d="M1124.6 20.7l18.6-9.5h80.5v19h-80.5z"/><text class="t" x="1184.7" y="19.5">[fft_shift]</text></g>
<g id="goto_impulse_arm"><path class="a" d="M1124.6 47l18.6-9.5h80.5v19h-80.5z"/><text class="t" x="1184" y="45.5">[impulse_arm]</text></g>
<g id="goto_overflow_rst"><path class="a" d="M1124.6 72.7l18.6-9.5h80.5v19h-80.5z"/><text class="t" x="1184.7" y="71.5">[overflow_rst]</text></g>
<g id="goto_acc_cnt_rst"><path class="a" d="M1124.6 98.7l18.6-9.5h80.5v19h-80.5z"/><text class="t" x="1185.5" y="97.5">[acc_cnt_rst]</text></g>
<g id="goto_snap_trig_gate"><path class="a" d="M1124.6 124.7l18.6-9.5h80.5v19h-80.5z"/><text class="t" x="1179.5" y="123.5">[snap_trig_gate]</text></g>
<g id="goto_man_sync"><path class="a" d="M1124.6 150.7l18.6-9.5h80.5v19h-80.5z"/><text class="t" x="1185" y="149.5">[man_sync]</text></g>

<g id="from10"><path class="a" d="M771.4 197.3h52l16 10.7-16 10.7h-52z"/><text class="t" x="802" y="206.5">[man_sync]</text><text class="b" x="805" y="228.3">From10</text></g>
<g id="edge_detect1"><rect class="g" x="890.8" y="197.3" width="46.9" height="21.4"/><use href="#ed" x="891" y="198"/><text class="l" x="913.6" y="228.7">edge_detect1</text><text class="l" x="914" y="242.7">rising edges</text><text class="l" x="914" y="255.7">active high</text></g>
<g id="goto1"><path class="a" d="M975.4 208l14-10h46.9v20h-46.9z"/><text class="t" x="1007" y="206.5">[sync_gen]</text><text class="b" x="1004.8" y="227.3">Goto1</text></g>
<g id="const20"><rect class="f" x="1072.8" y="206.3" width="26.1" height="14"/><text class="n" x="1088" y="213">20</text></g>
<g id="acc_len"><rect class="y" x="1150.3" y="198.3" width="104" height="29.4"/><text class="p" x="1153.5" y="212.7" style="fill:#ff4ec8">sim_1</text><text class="p e" x="1251" y="212.7">in_reg</text><use href="#lk" x="1152" y="211"/><text class="l" x="1202.5" y="237.7">acc_len</text><text class="l" x="1202.5" y="253">1input</text></g>
<g id="acc_cntrl"><rect class="u" x="1290.4" y="203.7" width="88.8" height="39.6"/><g class="p"><text x="1294" y="212.7">acc_len</text><text x="1294" y="234">sync</text></g><text class="p e" x="1376" y="223.7">new_acc</text><text class="l" x="1334.6" y="253.7">acc_cntrl</text></g>
<g id="goto_new_acc"><path class="a" d="M1421 223.7l15-10.3h47.5v20.6h-47.5z"/><text class="t" x="1455.5" y="222.5">[new_acc]</text></g>
<text class="k" x="884.6" y="271.7">2^11 point meaning 2^10 real points</text>
<text class="k" x="884.6" y="284.3">2 output points per clk cycle so 2^9 cycles per vector</text>
<g id="from_sync_gen"><path class="a" d="M636.3 294.3h53.7l13 7.4-13 7.4h-53.7z"/><text class="t s" x="637" y="301">[sync_gen]</text></g>
<g id="from_fft_shift"><path class="a" d="M636.3 315h54.7l13 7-13 7h-54.7z"/><text class="t s" x="637" y="321">[fft_shift]</text></g>
<g id="fft_wideband_real1"><rect class="g" x="750.3" y="294.3" width="94.1" height="289.7"/><g class="p"><text x="753.5" y="306.7">sync</text><text x="753.5" y="322">shift</text><text x="753.5" y="337.7">in00</text><text x="753.5" y="353.3">in01</text><text x="753.5" y="368.9">in02</text><text x="753.5" y="384.5">in03</text><text x="753.5" y="400.1">in10</text><text x="753.5" y="415.7">in11</text><text x="753.5" y="431.3">in12</text><text x="753.5" y="446.9">in13</text><text x="753.5" y="462.5">in20</text><text x="753.5" y="478.1">in21</text><text x="753.5" y="493.7">in22</text><text x="753.5" y="509.3">in23</text><text x="753.5" y="524.9">in30</text><text x="753.5" y="540.5">in31</text><text x="753.5" y="556.1">in32</text><text x="753.5" y="571.7">in33</text></g><g class="p e"><text x="841" y="322">sync_out</text><text x="841" y="347.7">out00</text><text x="841" y="373.7">out01</text><text x="841" y="399.7">out10</text><text x="841" y="425.7">out11</text><text x="841" y="451.7">out20</text><text x="841" y="477.7">out21</text><text x="841" y="503.7">out30</text><text x="841" y="529.7">out31</text><text x="841" y="555.7">of</text></g><use href="#lk" x="752" y="567"/><text class="l" x="797" y="593.3">fft_wideband_real1</text><text class="l" x="797" y="608.7">11 stages</text><text class="l" x="797" y="621.7">(8,18)</text><text class="l" x="797" y="634.3">Round  (unbiased: +/- Inf)</text><text class="l" x="797" y="646.7">Saturate</text></g>
<g id="bus_create0"><rect class="g" x="911.6" y="334.3" width="52.2" height="53.4"/><text class="p" x="915" y="347.7">in1</text><text class="p" x="915" y="373.7">in2</text><text class="p e" x="960.5" y="363.7">bus_out</text><use href="#lk" x="913" y="372"/></g>
<g id="bus_create1"><rect class="g" x="911.6" y="387.7" width="52.2" height="50.6"/><text class="p" x="915" y="399.7">in1</text><text class="p" x="915" y="425.7">in2</text><text class="p e" x="960.5" y="415.7">bus_out</text><use href="#lk" x="913" y="422"/></g>
<g id="bus_create2"><rect class="g" x="911.6" y="439.3" width="52.2" height="51"/><text class="p" x="915" y="451.7">in1</text><text class="p" x="915" y="477.7">in2</text><text class="p e" x="960.5" y="467.7">bus_out</text><use href="#lk" x="913" y="474"/></g>
<g id="bus_create3"><rect class="g" x="911.6" y="491.3" width="52.2" height="51"/><text class="p" x="915" y="503.7">in1</text><text class="p" x="915" y="529.7">in2</text><text class="p e" x="960.5" y="519.7">bus_out</text><use href="#lk" x="913" y="526"/></g>
<g id="goto_fft_of"><path class="a" d="M917.4 555.7l17-9.3h55.5v18.6h-55.5z"/><text class="t" x="961" y="554.5">[fft_of]</text></g>
<g id="cross_multiplier"><rect class="g" x="1036.3" y="278.3" width="109.9" height="274.7"/><g class="p"><text x="1039.5" y="311.7">sync_in</text><text x="1039.5" y="363.7">din0</text><text x="1039.5" y="415.7">din1</text><text x="1039.5" y="467.7">din2</text><text x="1039.5" y="519.7">din3</text></g><g class="p e"><text x="1142" y="286">sync_out</text><text x="1142" y="311.7">din0_x_din0*</text><text x="1142" y="337.7">din0_x_din1*</text><text x="1142" y="363.7">din0_x_din2*</text><text x="1142" y="389.7">din0_x_din3*</text><text x="1142" y="415.7">din1_x_din1*</text><text x="1142" y="441.7">din1_x_din2*</text><text x="1142" y="467.7">din1_x_din3*</text><text x="1142" y="493.7">din2_x_din2*</text><text x="1142" y="519.7">din2_x_din3*</text><text x="1142" y="545.7">din3_x_din3*</text></g><use href="#lk" x="1038" y="536.7"/><text class="l" x="1090.6" y="562.7">cross_multiplier</text></g>
<g id="term_c"><use href="#tm" x="1162" y="410.2"/><use href="#tm" x="1162" y="488.2"/><use href="#tm" x="1162" y="540.2"/></g>
<g id="from_new_acc"><path class="a" d="M1187.2 278.7h50l11.8 7.3-11.8 7.3h-50z"/><text class="t s" x="1188" y="285">[new_acc]</text></g>
<g id="accumulators"><rect class="u" x="1270.5" y="276.7" width="108.7" height="247.3"/><g class="p"><text x="1274" y="291">new_acc</text><text x="1274" y="322">In_0x0</text><text x="1274" y="353.3">In_0x1</text><text x="1274" y="384.3">In_0x2</text><text x="1274" y="415.3">In_0x3</text><text x="1274" y="446.7">In_1x2</text><text x="1274" y="477.7">In_1x3</text><text x="1274" y="509">In_2x3</text></g><g class="p e"><text x="1376" y="295.7">acc_valid</text><text x="1376" y="321.7">out_0x0</text><text x="1376" y="347.7">out_0x1</text><text x="1376" y="373.7">out_0x2</text><text x="1376" y="399.7">out_0x3</text><text x="1376" y="425.7">out_1x2</text><text x="1376" y="451.7">out_1x3</text><text x="1376" y="477.7">out_2x3</text><text x="1376" y="503.7">carry</text></g><text class="l" x="1325" y="533.3">accumulators</text></g>
<g id="gotos_acc">
<g><path class="a" d="M1436.4 295.7l17-9.5h51v19h-51z"/><text class="t" x="1474" y="294.5">[acc_valid]</text></g>
<g><path class="a" d="M1436.4 321.7l17-8.7h51v17.4h-51z"/><text class="t" x="1478" y="320.5">[out_0x0]</text></g>
<g><path class="a" d="M1436.4 347.7l17-8.7h51v17.4h-51z"/><text class="t" x="1478" y="346.5">[out_0x1]</text></g>
<g><path class="a" d="M1436.4 373.7l17-8.7h51v17.4h-51z"/><text class="t" x="1478" y="372.5">[out_0x2]</text></g>
<g><path class="a" d="M1436.4 399.7l17-8.7h51v17.4h-51z"/><text class="t" x="1478" y="398.5">[out_0x3]</text></g>
<g><path class="a" d="M1436.4 425.7l17-8.7h51v17.4h-51z"/><text class="t" x="1478" y="424.5">[out_1x2]</text></g>
<g><path class="a" d="M1436.4 451.7l17-8.7h51v17.4h-51z"/><text class="t" x="1478" y="450.5">[out_1x3]</text></g>
<g><path class="a" d="M1436.4 477.7l17-8.7h51v17.4h-51z"/><text class="t" x="1478" y="476.5">[out_2x3]</text></g>
<g><path class="a" d="M1436.4 503.7l17-8.7h51v17.4h-51z"/><text class="t" x="1475" y="502.5">[acc_carry]</text></g>
</g>

<g id="from20"><path class="a" d="M963.8 597.3h77l16.2 10.7-16.2 10.7h-77z"/><text class="t s" x="965" y="606.5">[snap_trig_gate]</text><text class="b" x="1010" y="628.3">From20</text></g>
<g id="convert2"><rect class="x" x="1103.9" y="597.3" width="31.1" height="21.4"/><text class="n" x="1119.5" y="608">cast</text><text class="l" x="1119" y="628.3">Convert2</text></g>
<g id="from18"><path class="a" d="M979.5 634.3h53l14.2 10-14.2 10h-53z"/><text class="t s" x="981" y="643">[acc_valid]</text><text class="b" x="1013" y="663.3">From18</text></g>
<g id="edge_detect2"><rect class="g" x="1093.5" y="634" width="46.9" height="20.7"/><use href="#ed" x="1094" y="635"/><text class="l" x="1116.7" y="665">edge_detect2</text><text class="l" x="1116.7" y="679.7">rising edges</text><text class="l" x="1116.7" y="692.7">active high</text></g>
<g id="logical1"><rect class="x" x="1176.4" y="601.7" width="52.2" height="49"/><use href="#sx" transform="translate(1186,610) scale(.7)"/><text class="n" x="1202.5" y="625">and</text><text class="l" x="1202" y="660.3">Logical1</text></g>
<g id="goto13"><path class="a" d="M1264.7 628.7l14-10.4h64.3v20.8h-64.3z"/><text class="t" x="1310" y="627.5">[snap_trig]</text><text class="b" x="1302" y="648.3">Goto13</text></g>
<g id="from_acc_cnt_rst"><path class="a" d="M942.6 706.3h52l16 10.7-16 10.7h-52z"/><text class="t s" x="943.5" y="715.5">[acc_cnt_rst]</text></g>
<g id="from22"><path class="a" d="M942.6 733.7h52l15.4 9.3-15.4 9.3h-52z"/><text class="t s" x="943.5" y="741.5">[snap_trig]</text><text class="b" x="976.6" y="762.3">From22</text></g>
<g id="convert1"><rect class="x" x="1057.5" y="706.3" width="31" height="21.4"/><text class="n" x="1073" y="717">cast</text><text class="l" x="1073" y="737">Convert1</text></g>
<g id="pipeline31" transform="translate(1046.3,743)"><rect class="u" x="0" y="-8.7" width="58.4" height="17.4"/><text class="z" x="30">d Z^-1 q</text><use href="#m" x="2" y="-2"/><text class="l" x="28.6" y="18.7">pipeline31</text><text class="l" x="28.6" y="32.7">Latency = 1</text></g>
<g id="acc_counter"><rect class="x" x="1140.4" y="705.7" width="62.1" height="48.3"/><use href="#sx" transform="translate(1155,714) scale(.7)"/><text class="p" x="1143.5" y="717" style="fill:#222">rst</text><text class="p" x="1143.5" y="743" style="fill:#222">en</text><text x="1171.5" y="730" style="font-size:17px;font-weight:bold;fill:#111;text-anchor:middle">++</text><text class="l" x="1171.4" y="764.7">acc_counter</text></g>
<g id="pipeline29" transform="translate(1259.7,732.7)"><rect class="u" x="0" y="-9.7" width="52.8" height="19.3"/><text class="z" x="27">d Z^-1 q</text><use href="#m" x="2" y="-1"/><text class="l" x="26.5" y="19">pipeline29</text><text class="l" x="26.5" y="34">Latency = 1</text></g>
<g id="acc_number"><rect class="y" x="1368.8" y="719" width="104.2" height="27.3"/><text class="p" x="1372" y="732.7">out_reg</text><text class="p e" x="1469.5" y="732.7">sim_out</text><use href="#lk" x="1370" y="725"/><text class="l" x="1421" y="755.7">acc_number</text><text class="l" x="1421" y="770.7">1output</text></g>
<use href="#tm" x="1494" y="727.2"/>

<g id="from_overflow_rst"><path class="a" d="M558.3 786.3h58l12.7 8.4-12.7 8.6h-58z"/><text class="t s" x="559" y="794">[overflow_rst]</text></g>
<g id="from_fft_of"><path class="a" d="M558.3 813.3h39l13.4 7.7-13.4 7.7h-39z"/><text class="t s" x="560" y="819.5">[fft_of]</text></g>
<g id="pipeline27" transform="translate(641.3,821)"><text class="l" x="24" y="18.3">pipeline27</text><text class="l" x="26" y="32.3">Latency = 2</text><rect class="u" x="0" y="-8.3" width="52.4" height="16.6"/><text class="z" x="28">d Z^-2 q</text><use href="#m" x="2" y="-2"/></g>
<g id="const0a"><rect class="h" x="683.7" y="833.3" width="15" height="16"/><text class="n" x="692" y="841.5">0</text></g>
<g id="relational1"><rect class="x" x="750.7" y="811.7" width="41.6" height="39"/><use href="#sx" transform="translate(757,815) scale(.6)"/><g class="p" style="fill:#222"><text x="753.5" y="821">a</text><text x="753.5" y="841.3">b</text></g><text class="n" x="771" y="819">z<tspan dy="-4" font-size="8">-1</tspan></text><text x="775" y="832" style="font-size:12px;font-weight:bold;fill:#111;text-anchor:middle">a ≠ b</text><text class="l" x="771.3" y="860.3">Relational1</text></g>
<g id="from_acc_carry"><path class="a" d="M563.7 870.7h48l12.3 7.3-12.3 7.7h-48z"/><text class="t s" x="564" y="877">[acc_carry]</text></g>
<g id="from_adc0_of"><path class="a" d="M563.7 912.3h48l9.3 7.4-9.3 7.3h-48z"/><text class="t s" x="564.5" y="918.5">[adc0_of]</text></g>
<g id="from_adc1_of"><path class="a" d="M563.7 933.3h48l9.3 7-9.3 8h-48z"/><text class="t s" x="564.5" y="939">[adc1_of]</text></g>
<g id="pipeline35" transform="translate(657,919.7)"><rect class="u" x="0" y="-7.5" width="52.3" height="15"/><text class="z" x="27">d Z^-1 q</text><use href="#m" x="2" y="-2"/></g>
<g id="pipeline36" transform="translate(657,940.3)"><text class="l" x="26" y="12">Latency = 1</text><rect class="u" x="0" y="-7" width="52.3" height="14"/><text class="z" x="27">d Z^-1 q</text><use href="#m" x="2" y="-2"/><text class="l" x="26" y="16.5">pipeline36</text><text class="l" x="26" y="31.5">Latency = 1</text></g>
<g id="logical4"><rect class="x" x="745.7" y="910.3" width="46.6" height="39.4"/><use href="#sx" transform="translate(756,915) scale(.6)"/><text class="n" x="768" y="920">z<tspan dy="-4" font-size="8">-1</tspan></text><text class="n" x="768.5" y="936.5">or</text><text class="l" x="768.5" y="959.7">Logical4</text></g>
<g id="delay1"><rect class="x" x="854.3" y="803.3" width="52.3" height="45.4"/><use href="#sx" transform="translate(868,810) scale(.7)"/><g class="p"><text x="858" y="810.7">d</text><text x="858" y="826">rst</text><text x="858" y="841.7">en</text></g><text class="n" x="879" y="828">z<tspan dy="-4" font-size="8">-1</tspan></text><text class="p e" x="903" y="826">q</text></g>
<g id="delay2"><rect class="x" x="854.3" y="856" width="52.3" height="44"/><use href="#sx" transform="translate(868,862) scale(.7)"/><g class="p"><text x="858" y="862.7">d</text><text x="858" y="877.7">rst</text><text x="858" y="893.7">en</text></g><text class="n" x="879" y="880">z<tspan dy="-4" font-size="8">-1</tspan></text><text class="p e" x="903" y="878">q</text></g>
<g id="delay3"><rect class="x" x="854.3" y="908" width="52.3" height="44"/><use href="#sx" transform="translate(868,914) scale(.7)"/><g class="p"><text x="858" y="914.3">d</text><text x="858" y="930">rst</text><text x="858" y="945.7">en</text></g><text class="n" x="879" y="932">z<tspan dy="-4" font-size="8">-1</tspan></text><text class="p e" x="903" y="930">q</text></g>
<g id="concat"><rect class="x" x="974.6" y="847.3" width="61.7" height="61.7"/><use href="#sx" transform="translate(987,855) scale(.95)"/><text class="p" x="978" y="857.3">hi</text><text class="p" x="978" y="898.7">lo</text><text x="1005" y="879" style="font-size:26px;fill:#111;text-anchor:middle">}</text><text class="l" x="1005" y="919.7">Concat</text></g>
<g id="z_block"><rect class="x" x="1083.3" y="837.3" width="25.7" height="18.7"/><text class="n" x="1094" y="849">z<tspan dy="-4" font-size="8">-1</tspan></text></g>
<g id="convert5"><rect class="x" x="1161.3" y="836.7" width="30.7" height="20"/><text class="n" x="1176.7" y="846.5">cast</text><text class="l" x="1176.7" y="867.3">Convert5</text></g>
<g id="status"><rect class="y" x="1244.3" y="833.7" width="104" height="27"/><text class="p" x="1247.5" y="847">out_reg</text><text class="p e" x="1345" y="847">sim_out</text><use href="#lk" x="1246" y="844"/><text class="l" x="1296" y="870.7">status</text><text class="l" x="1296" y="885.7">1output</text></g>
<g id="scope"><rect class="a" x="1374" y="830" width="30" height="34"/><rect class="a" x="1378.3" y="835" width="23.4" height="12.7"/><text class="b" x="1389.3" y="873.7">Scope</text></g>
<g id="relational"><rect class="x" x="1156" y="892.7" width="46.7" height="43.3"/><use href="#sx" transform="translate(1164,898) scale(.65)"/><g class="p" style="fill:#222"><text x="1159.5" y="903.7">a</text><text x="1159.5" y="924.7">b</text></g><text class="n" x="1178" y="900">z<tspan dy="-4" font-size="8">-1</tspan></text><text x="1185" y="915.7" style="font-size:12px;font-weight:bold;fill:#111;text-anchor:middle">a ≠ b</text><text class="l" x="1179.3" y="946">Relational</text></g>
<g id="const0b"><rect class="h" x="1088.7" y="917" width="15" height="16"/><text class="n" x="1097" y="925">0</text></g>
<g id="gpio"><rect class="y" x="1249.3" y="899" width="104" height="31"/><text class="p" x="1252.7" y="914.7">gpio_out</text><text class="p e" x="1350" y="914.7">sim_out</text><text class="l" x="1301" y="940">gpio</text></g>
<use href="#tm" x="1380" y="909.2"/>

<g id="from_impulse_arm"><path class="a" d="M241.7 999.7h70l12.9 8.3-12.9 8.3h-70z"/><text class="t s" x="242" y="1007">[impulse_arm]</text></g>
<g id="from_sync_gen2"><path class="a" d="M241.7 1025.7h70l12.9 8.3-12.9 8.3h-70z"/><text class="t s" x="244" y="1033">[sync_gen]</text></g>
<g id="from_adc0_i2"><path class="a" d="M241.7 1051.7h70l12.9 8.3-12.9 8.3h-70z"/><text class="t s" x="250" y="1058.5">[adc0_i]</text></g>
<g id="pipeline30" transform="translate(376.4,1008)"><rect class="u pc"/><text class="z" x="28">d Z^-1 q</text><use href="#m" x="2" y="-2"/><text class="l" x="26" y="16.3">pipeline30</text><text class="l" x="26" y="30.3">Latency = 1</text></g>
<g id="pipeline60" transform="translate(376.4,1034)"><rect class="u pc" style="fill:none"/><text class="z" x="28">d Z^-2 q</text><use href="#m" x="2" y="-2"/><text class="l" x="26" y="16.3">pipeline60</text><text class="l" x="26" y="31">Latency = 2</text></g>
<g id="pipeline61" transform="translate(376.4,1060)"><rect class="u pc" style="fill:none"/><text class="z" x="28">d Z^-2 q</text><use href="#m" x="2" y="-2"/><text class="l" x="26" y="16.3">pipeline61</text><text class="l" x="26" y="30.7">Latency = 2</text></g>
<g id="impulse_detector1"><rect class="u" x="490.8" y="1011.3" width="88.2" height="129"/><g class="p"><text x="494" y="1023.7">arm</text><text x="494" y="1049.7">clear</text><text x="494" y="1075.7">adc_in</text><text x="494" y="1101.7">filter_len</text><text x="494" y="1127.7">setpoint</text></g><g class="p e"><text x="575.5" y="1034">current</text><text x="575.5" y="1075.7">triggered</text><text x="575.5" y="1117">length</text></g><text class="l" x="534.3" y="1149.7">impulse_detector1</text></g>
<g id="const100"><rect class="f" x="106.5" y="1089.3" width="46.5" height="14.4"/><text class="n e" x="151" y="1096.5">100</text></g>
<g id="impulse_filter_len"><rect class="y" x="199.8" y="1087" width="104" height="29.3"/><text class="p" x="203" y="1101.7" style="fill:#ff4ec8">sim_1</text><text class="p e" x="300.5" y="1101.7">in_reg</text><use href="#lk" x="201" y="1100"/><text class="l" x="251.6" y="1125.7">impulse_filter_len</text><text class="l" x="251.6" y="1140.7">1input</text></g>
<g id="const800"><rect class="f" x="112" y="1141.3" width="46.3" height="14.4"/><text class="n e" x="156" y="1148.5">800</text></g>
<g id="setppoint"><rect class="y" x="199.8" y="1133.7" width="104" height="29.3"/><text class="p" x="203" y="1148.3" style="fill:#ff4ec8">sim_1</text><text class="p e" x="300.5" y="1148.3">in_reg</text><use href="#lk" x="201" y="1147"/><text class="l" x="251.6" y="1172.7">setppoint</text><text class="l" x="251.6" y="1187.7">1input</text></g>
<g id="reinterpret"><rect class="x" x="355.6" y="1138" width="57.2" height="20.3"/><text class="n" x="384.5" y="1147.5">reinterpret</text><text class="l" x="384.7" y="1168.7">Reinterpret</text></g>
<text class="k" x="578" y="1169.7">clear: erases whatever the current accumulated value of the filter.</text>
<text class="k" x="580" y="1182.7">arm: pulse to allow one trigger. arm again to allow another</text>
<g id="cast_impulse"><rect class="x" x="636.3" y="1015.7" width="46.9" height="36.6"/><use href="#sx" transform="translate(642,1023) scale(.6)"/><text class="n" x="655" y="1024">z<tspan dy="-4" font-size="8">-1</tspan></text><text class="n" x="668" y="1033.5">cast</text></g>
<g id="current_impulse_level"><rect class="y" x="740.4" y="1020.3" width="88.2" height="27.4"/><text class="p" x="743.5" y="1034">out_reg</text><text class="p e" x="825.5" y="1034">sim_out</text><use href="#lk" x="742" y="1031"/><text class="l" x="784.3" y="1057.7">current_impulse_level</text><text class="l" x="784.3" y="1072.3">1output</text></g>
<g id="scope7"><rect class="a" x="869.7" y="1017.3" width="31.9" height="33.4"/><rect class="a" x="874.3" y="1021.7" width="23.6" height="13"/><text class="b" x="885.4" y="1060.7">Scope7</text></g>
<g id="goto25"><path class="a" d="M803 1075.7l18-10.7h70.2v21h-70.2z"/><text class="t" x="854" y="1074.5">[impulse_trig]</text><text class="b" x="846.5" y="1095.3">Goto25</text></g>
<g id="pipeline63" transform="translate(630.9,1117)"><rect class="u" x="0" y="-6.5" width="52.3" height="13"/><text class="z" x="27">d Z^-1 q</text><use href="#m" x="2" y="-2"/><text class="l" x="26" y="16.7">pipeline63</text><text class="l" x="26" y="31">Latency = 1</text></g>
<g id="impulse_length"><rect class="y" x="740.4" y="1103.3" width="93.2" height="27.4"/><text class="p" x="743.5" y="1117">out_reg</text><text class="p e" x="830" y="1117">sim_out</text><use href="#lk" x="742" y="1114.5"/><text class="l" x="786.8" y="1140.7">impulse_length</text><text class="l" x="786.8" y="1155.7">1output</text></g>
<g id="scope6"><rect class="a" x="869.7" y="1100.3" width="31.9" height="33.4"/><rect class="a" x="874.3" y="1104.7" width="23.6" height="13"/><text class="b" x="885.4" y="1143.7">Scope6</text></g>

<text class="k" x="1252" y="990.7">I don't understand the endinness here -</text>
<text class="k" x="1252" y="1003.3">the documentation does not seem correct.</text>
<text class="k" x="1252" y="1015.7">However, this seems to work...</text>
<g id="from_adc0_i3"><path class="a" d="M932.3 1054.3h50l18 10.7-18 10.7h-50z"/><text class="t" x="958" y="1063.5">[adc0_i]</text></g>
<g id="from_adc0_q"><path class="a" d="M932.3 1075.7h50l18 10.3-18 10.7h-50z"/><text class="t" x="958" y="1084.5">[adc0_q]</text></g>
<g id="from_adc1_i"><path class="a" d="M932.3 1117h50l18 10.7-18 10.6h-50z"/><text class="t" x="958" y="1126">[adc1_i]</text></g>
<g id="from_adc1_q"><path class="a" d="M932.3 1137.7h50l18 10.6-18 10.7h-50z"/><text class="t" x="958" y="1146.5">[adc1_q]</text></g>
<g id="pipeline_b0" transform="translate(1052,1065)"><rect class="u pc"/><text class="z" x="28">d Z^-1 q</text><use href="#m" x="2" y="-2"/><text class="l" x="26" y="14">pipeline34</text></g>
<g id="pipeline37" transform="translate(1052,1086)"><rect class="u pc"/><text class="z" x="28">d Z^-1 q</text><use href="#m" x="2" y="-2"/><text class="l" x="26" y="11">Latency = 1</text><text class="l" x="26" y="16.7">pipeline37</text><text class="l" x="26" y="30.7">Latency = 1</text></g>
<g id="pipeline_b2" transform="translate(1052,1127.7)"><rect class="u pc"/><text class="z" x="28">d Z^-1 q</text><use href="#m" x="2" y="-2"/></g>
<g id="pipeline62" transform="translate(1052,1148.3)"><text class="l" x="26" y="10">Latency = 1</text><rect class="u pc"/><text class="z" x="28">d Z^-1 q</text><use href="#m" x="2" y="-2"/><text class="l" x="26" y="16.4">pipeline62</text><text class="l" x="26" y="31.4">Latency = 1</text></g>
<g id="delay_bram3"><rect class="d gb" transform="translate(1161.5,1065)"/><text class="p" x="1165" y="1065">din</text><text class="p e" x="1215" y="1065">dout</text><use href="#m" x="1163" y="1069"/></g>
<g id="delay_bram2"><rect class="d gb" transform="translate(1161.5,1086)"/><text class="p" x="1165" y="1086">din</text><text class="p e" x="1215" y="1086">dout</text><use href="#m" x="1163" y="1089"/><text class="l" x="1189" y="1083.7">delay_bram3</text><text class="l" x="1189" y="1104.3">delay_bram2</text></g>
<g id="delay_bram1"><rect class="d gb" transform="translate(1161.5,1127.7)"/><text class="p" x="1165" y="1127.7">din</text><text class="p e" x="1215" y="1127.7">dout</text><use href="#m" x="1163" y="1131"/></g>
<g id="delay_bram"><rect class="d gb" transform="translate(1161.5,1148.3)"/><text class="p" x="1165" y="1148.3">din</text><text class="p e" x="1215" y="1148.3">dout</text><use href="#m" x="1163" y="1151"/><text class="l" x="1189" y="1145.7">delay_bram1</text><text class="l" x="1189" y="1166.3">delay_bram</text></g>
<g id="const170a"><rect class="h" x="1218.7" y="1038.7" width="25.3" height="12"/><text class="n" x="1232" y="1044.5">170</text></g>
<g id="const170b"><rect class="h" x="1218.7" y="1100.3" width="25.3" height="12"/><text class="n" x="1232" y="1106.5">170</text></g>
<g id="concat2"><rect class="x" x="1275.5" y="1038.3" width="62" height="116"/><use href="#sx" transform="translate(1287,1070) scale(1)"/><text class="p" x="1279" y="1044.3">hi</text><text class="p" x="1279" y="1148.3">lo</text><text x="1305" y="1097" style="font-size:30px;fill:#111;text-anchor:middle">}</text></g>
<g id="from_impulse_trig"><path class="a" d="M1197.5 1170h61l16.5 9.7-16.5 9.6h-61z"/><text class="t s" x="1198" y="1178.5">[impulse_trig]</text></g>
<g id="pipeline33" transform="translate(1306.3,1179.7)"><rect class="u" x="0" y="-6.5" width="52.5" height="13"/><text class="z" x="28">d Z^-2 q</text><use href="#m" x="2" y="-2"/><text class="l" x="26" y="16">pipeline33</text><text class="l" x="26" y="31">Latency = 2</text></g>
<g class="k"><text x="1448.9" y="1011.7">Things to fix after updating mask:</text><text x="1448.9" y="1023.7">cast block to 144 bits</text><text x="1448.9" y="1036.3">"dram" unticked</text><text x="1489" y="1052.3">Number of samples assumes 64 bit data width.</text><text x="1489" y="1065.3">For 128 bit data width, set number of samples to double.</text></g>
<g id="const_we"><rect class="h" x="1353.4" y="1126.3" width="25.8" height="23"/><use href="#sx" transform="translate(1356,1130) scale(.33)"/><text class="n" x="1373" y="1138">1</text></g>
<g id="dram_snapshot"><rect class="g" x="1405.5" y="1076.3" width="62.1" height="123"/><text class="p" x="1408.5" y="1096.7">din</text><text class="p" x="1408.5" y="1138" style="fill:#ff4ec8">we</text><text class="p" x="1408.5" y="1179.3">trig</text><text class="p e" x="1464.5" y="1138">ready</text><use href="#lk" x="1407" y="1183"/><text class="l" x="1436.4" y="1209.7">dram_snapshot</text></g>
<use href="#tm" x="1494.5" y="1132.5"/>

<g class="k"><text x="1713.7" y="15.7">Trigger must come one clock cycle</text><text x="1713.7" y="28.3">before the data to be snapped</text><text x="1628.6" y="161.3">Order should be:</text><text x="1628.6" y="173.3">00_im ; 00_re ; 01_im ; 01_re</text><text x="1628.6" y="186.3">(LSB) .............................(MSB)</text></g>

<g id="from1"><path class="a" d="M1529.8 74h46.9l16 9.3-16 9.3h-46.9z"/><text class="t s" x="1531" y="81.5">[out_0x0]</text><text class="b" x="1560.6" y="102.3">From1</text></g>
<g id="from_out_0x1"><path class="a" d="M1529.8 245.4h46.9l16 9.3-16 9.3h-46.9z"/><text class="t s" x="1531" y="253">[out_0x1]</text></g>
<g id="from_out_0x2"><path class="a" d="M1534.8 416.4h46.9l16 9.3-16 9.3h-46.9z"/><text class="t s" x="1536" y="424">[out_0x2]</text></g>
<g id="from_out_0x3"><path class="a" d="M1534.8 593.4h46.9l16 9.3-16 9.3h-46.9z"/><text class="t s" x="1536" y="601">[out_0x3]</text></g>
<g id="from_out_1x2"><path class="a" d="M1534.8 775.4h46.9l16 9.3-16 9.3h-46.9z"/><text class="t s" x="1536" y="783">[out_1x2]</text></g>
<g id="from_out_1x3"><path class="a" d="M1534.8 941.4h46.9l16 9.3-16 9.3h-46.9z"/><text class="t s" x="1536" y="949">[out_1x3]</text></g>
<g id="from_out_2x3"><path class="a" d="M1534.8 1113h46.9l16 9.3-16 9.3h-46.9z"/><text class="t s" x="1536" y="1120.5">[out_2x3]</text></g>

<g id="bus_expand_0x0" transform="translate(1638.6,83.3)"><rect class="g be"/><text class="p e" x="49.5" y="-20.6">msb_out2</text><text class="p" x="3.5">bus_in</text><text class="p e" x="49.5" y="20.7">lsb_out1</text><use href="#lk" x="2" y="23"/><text class="l" x="26.5" y="49.4">bus_expand_0x0</text><text class="l" x="26.5" y="64.4">2 outputs</text></g>
<g id="bus_expand_0x1" transform="translate(1638.6,254.7)"><rect class="g be"/><text class="p e" x="49.5" y="-20.7">msb_out2</text><text class="p" x="3.5">bus_in</text><text class="p e" x="49.5" y="21">lsb_out1</text><use href="#lk" x="2" y="23"/><text class="l" x="26.5" y="49.4">bus_expand_0x1</text><text class="l" x="26.5" y="64">2 outputs</text></g>
<g id="bus_expand_0x2" transform="translate(1644,425.7)"><rect class="g be"/><text class="p e" x="49.5" y="-20.7">msb_out2</text><text class="p" x="3.5">bus_in</text><text class="p e" x="49.5" y="21">lsb_out1</text><use href="#lk" x="2" y="23"/><text class="l" x="26.5" y="50">bus_expand_0x2</text><text class="l" x="26.5" y="65">2 outputs</text></g>
<g id="bus_expand_0x3" transform="translate(1644,602.7)"><rect class="g be"/><text class="p e" x="49.5" y="-20.7">msb_out2</text><text class="p" x="3.5">bus_in</text><text class="p e" x="49.5" y="21">lsb_out1</text><use href="#lk" x="2" y="23"/><text class="l" x="26.5" y="50">bus_expand_0x3</text><text class="l" x="26.5" y="64">2 outputs</text></g>
<g id="bus_expand_1x2" transform="translate(1644,784.7)"><rect class="g be"/><text class="p e" x="49.5" y="-20.7">msb_out2</text><text class="p" x="3.5">bus_in</text><text class="p e" x="49.5" y="21">lsb_out1</text><use href="#lk" x="2" y="23"/><text class="l" x="26.5" y="49">bus_expand_1x2</text><text class="l" x="26.5" y="64">2 outputs</text></g>
<g id="bus_expand_1x3" transform="translate(1644,950.7)"><rect class="g be"/><text class="p e" x="49.5" y="-20.7">msb_out2</text><text class="p" x="3.5">bus_in</text><text class="p e" x="49.5" y="21">lsb_out1</text><use href="#lk" x="2" y="23"/><text class="l" x="26.5" y="50">bus_expand_1x3</text><text class="l" x="26.5" y="64">2 outputs</text></g>
<g id="bus_expand_2x3" transform="translate(1644,1122.3)"><rect class="g be"/><text class="p e" x="49.5" y="-20.6">msb_out2</text><text class="p" x="3.5">bus_in</text><text class="p e" x="49.5" y="20.7">lsb_out1</text><use href="#lk" x="2" y="23"/><text class="l" x="26.5" y="49.4">bus_expand_2x3</text><text class="l" x="26.5" y="64.4">2 outputs</text></g>

<g id="snap_0x0_0" transform="translate(0,41.7)"><g transform="translate(1774,0)"><rect class="u pb"/><text class="z" x="24.5">dZ^-1q</text><use href="#m" x="2" y="-2"/><text class="l" x="23" y="18">Latency = 1</text></g><g transform="translate(1836.7,21)"><rect class="f cn"/><text class="n" x="9">1</text></g><g transform="translate(1711.6,41.6)"><path class="a" d="M0-7.5h46l9.5 7.5-9.5 7.5h-46z"/><text class="t s" x="1" y="-1">[snap_trig]</text></g><g transform="translate(1805.4,41.6)"><rect class="u pb"/><text class="z" x="24.5">dZ^-1q</text><use href="#m" x="2" y="-2"/><text class="l" x="23" y="18">Latency = 1</text></g><g transform="translate(1883,0)"><rect class="g sn"/><text class="p" x="4">din</text><text class="p" x="4" y="21">we</text><text class="p" x="4" y="41.6">trig</text><use href="#lk" x="1.5" y="34.5"/><text class="l" x="28" y="61">snap_0x0_0</text></g></g>
<g id="snap_0x0_1" transform="translate(0,119.3)"><g transform="translate(1758.3,0)"><rect class="u pb"/><text class="z" x="24.5">dZ^-1q</text><use href="#m" x="2" y="-2"/><text class="l" x="23" y="18">Latency = 1</text></g><g transform="translate(1836.7,21)"><rect class="f cn"/><text class="n" x="9">1</text></g><g transform="translate(1711.6,41.6)"><path class="a" d="M0-7.5h46l9.5 7.5-9.5 7.5h-46z"/><text class="t s" x="1" y="-1">[snap_trig]</text></g><g transform="translate(1805.4,41.6)"><rect class="u pb"/><text class="z" x="24.5">dZ^-1q</text><use href="#m" x="2" y="-2"/><text class="l" x="23" y="18">Latency = 1</text></g><g transform="translate(1883,0)"><rect class="g sn"/><text class="p" x="4">din</text><text class="p" x="4" y="21">we</text><text class="p" x="4" y="41.6">trig</text><use href="#lk" x="1.5" y="34.5"/><text class="l" x="28" y="61">snap_0x0_1</text></g></g>
<g id="snap_0x1_0" transform="translate(0,212.7)"><g transform="translate(1774,0)"><rect class="u pb"/><text class="z" x="24.5">dZ^-1q</text><use href="#m" x="2" y="-2"/><text class="l" x="23" y="18">Latency = 1</text></g><g transform="translate(1831.7,21)"><rect class="f cn"/><text class="n" x="9">1</text></g><g transform="translate(1706.6,42)"><path class="a" d="M0-7.5h46l9.5 7.5-9.5 7.5h-46z"/><text class="t s" x="1" y="-1">[snap_trig]</text></g><g transform="translate(1800.4,42)"><rect class="u pb"/><text class="z" x="24.5">dZ^-1q</text><use href="#m" x="2" y="-2"/><text class="l" x="23" y="18">Latency = 1</text></g><g transform="translate(1883,0)"><rect class="g sn"/><text class="p" x="4">din</text><text class="p" x="4" y="21">we</text><text class="p" x="4" y="41.6">trig</text><use href="#lk" x="1.5" y="34.5"/><text class="l" x="28" y="61">snap_0x1_0</text></g></g>
<g id="snap_0x1_1" transform="translate(0,291)"><g transform="translate(1774,0)"><rect class="u pb"/><text class="z" x="24.5">dZ^-1q</text><use href="#m" x="2" y="-2"/><text class="l" x="23" y="18">Latency = 1</text></g><g transform="translate(1836.7,21)"><rect class="f cn"/><text class="n" x="9">1</text></g><g transform="translate(1711.6,41.6)"><path class="a" d="M0-7.5h46l9.5 7.5-9.5 7.5h-46z"/><text class="t s" x="1" y="-1">[snap_trig]</text></g><g transform="translate(1805.4,41.6)"><rect class="u pb"/><text class="z" x="24.5">dZ^-1q</text><use href="#m" x="2" y="-2"/><text class="l" x="23" y="18">Latency = 1</text></g><g transform="translate(1883,0)"><rect class="g sn"/><text class="p" x="4">din</text><text class="p" x="4" y="21">we</text><text class="p" x="4" y="41.6">trig</text><use href="#lk" x="1.5" y="34.5"/><text class="l" x="28" y="61">snap_0x1_1</text></g></g>
<g id="snap_0x2_0" transform="translate(0,384.3)"><g transform="translate(1774,0)"><rect class="u pb"/><text class="z" x="24.5">dZ^-1q</text><use href="#m" x="2" y="-2"/><text class="l" x="23" y="18">Latency = 1</text></g><g transform="translate(1836.7,21)"><rect class="f cn"/><text class="n" x="9">1</text></g><g transform="translate(1711.6,41.6)"><path class="a" d="M0-7.5h46l9.5 7.5-9.5 7.5h-46z"/><text class="t s" x="1" y="-1">[snap_trig]</text></g><g transform="translate(1805.4,41.6)"><rect class="u pb"/><text class="z" x="24.5">dZ^-1q</text><use href="#m" x="2" y="-2"/><text class="l" x="23" y="18">Latency = 1</text></g><g transform="translate(1883,0)"><rect class="g sn"/><text class="p" x="4">din</text><text class="p" x="4" y="21">we</text><text class="p" x="4" y="41.6">trig</text><use href="#lk" x="1.5" y="34.5"/><text class="l" x="28" y="61">snap_0x2_0</text></g></g>
<g id="snap_0x2_1" transform="translate(0,462.7)"><g transform="translate(1774,0)"><rect class="u pb"/><text class="z" x="24.5">dZ^-1q</text><use href="#m" x="2" y="-2"/><text class="l" x="23" y="18">Latency = 1</text></g><g transform="translate(1831.7,21)"><rect class="f cn"/><text class="n" x="9">1</text></g><g transform="translate(1711.6,41.6)"><path class="a" d="M0-7.5h46l9.5 7.5-9.5 7.5h-46z"/><text class="t s" x="1" y="-1">[snap_trig]</text></g><g transform="translate(1805.4,41.6)"><rect class="u pb"/><text class="z" x="24.5">dZ^-1q</text><use href="#m" x="2" y="-2"/><text class="l" x="23" y="18">Latency = 1</text></g><g transform="translate(1883,0)"><rect class="g sn"/><text class="p" x="4">din</text><text class="p" x="4" y="21">we</text><text class="p" x="4" y="41.6">trig</text><use href="#lk" x="1.5" y="34.5"/><text class="l" x="28" y="61">snap_0x2_1</text></g></g>
<g id="snap_0x3_0" transform="translate(0,555.7)"><g transform="translate(1774,0)"><rect class="u pb"/><text class="z" x="24.5">dZ^-1q</text><use href="#m" x="2" y="-2"/><text class="l" x="23" y="18">Latency = 1</text></g><g transform="translate(1836.7,21)"><rect class="f cn"/><text class="n" x="9">1</text></g><g transform="translate(1711.6,41.6)"><path class="a" d="M0-7.5h46l9.5 7.5-9.5 7.5h-46z"/><text class="t s" x="1" y="-1">[snap_trig]</text></g><g transform="translate(1805.4,41.6)"><rect class="u pb"/><text class="z" x="24.5">dZ^-1q</text><use href="#m" x="2" y="-2"/><text class="l" x="23" y="18">Latency = 1</text></g><g transform="translate(1883,0)"><rect class="g sn"/><text class="p" x="4">din</text><text class="p" x="4" y="21">we</text><text class="p" x="4" y="41.6">trig</text><use href="#lk" x="1.5" y="34.5"/><text class="l" x="28" y="61">snap_0x3_0</text></g></g>
<g id="snap_0x3_1" transform="translate(0,638.7)"><g transform="translate(1774,0)"><rect class="u pb"/><text class="z" x="24.5">dZ^-1q</text><use href="#m" x="2" y="-2"/><text class="l" x="23" y="18">Latency = 1</text></g><g transform="translate(1836.7,21)"><rect class="f cn"/><text class="n" x="9">1</text></g><g transform="translate(1711.6,41.6)"><path class="a" d="M0-7.5h46l9.5 7.5-9.5 7.5h-46z"/><text class="t s" x="1" y="-1">[snap_trig]</text></g><g transform="translate(1805.4,41.6)"><rect class="u pb"/><text class="z" x="24.5">dZ^-1q</text><use href="#m" x="2" y="-2"/><text class="l" x="23" y="18">Latency = 1</text></g><g transform="translate(1883,0)"><rect class="g sn"/><text class="p" x="4">din</text><text class="p" x="4" y="21">we</text><text class="p" x="4" y="41.6">trig</text><use href="#lk" x="1.5" y="34.5"/><text class="l" x="28" y="61">snap_0x3_1</text></g></g>
<g id="snap_1x2_0" transform="translate(0,737.7)"><g transform="translate(1774,0)"><rect class="u pb"/><text class="z" x="24.5">dZ^-1q</text><use href="#m" x="2" y="-2"/><text class="l" x="23" y="18">Latency = 1</text></g><g transform="translate(1836.7,21)"><rect class="f cn"/><text class="n" x="9">1</text></g><g transform="translate(1711.6,41.6)"><path class="a" d="M0-7.5h46l9.5 7.5-9.5 7.5h-46z"/><text class="t s" x="1" y="-1">[snap_trig]</text></g><g transform="translate(1805.4,41.6)"><rect class="u pb"/><text class="z" x="24.5">dZ^-1q</text><use href="#m" x="2" y="-2"/><text class="l" x="23" y="18">Latency = 1</text></g><g transform="translate(1883,0)"><rect class="g sn"/><text class="p" x="4">din</text><text class="p" x="4" y="21">we</text><text class="p" x="4" y="41.6">trig</text><use href="#lk" x="1.5" y="34.5"/><text class="l" x="28" y="61">snap_1x2_0</text></g></g>
<g id="snap_1x2_1" transform="translate(0,815.7)"><g transform="translate(1774,0)"><rect class="u pb"/><text class="z" x="24.5">dZ^-1q</text><use href="#m" x="2" y="-2"/><text class="l" x="23" y="18">Latency = 1</text></g><g transform="translate(1836.7,21)"><rect class="f cn"/><text class="n" x="9">1</text></g><g transform="translate(1722.4,41.6)"><path class="a" d="M0-7.5h46l9.5 7.5-9.5 7.5h-46z"/><text class="t s" x="1" y="-1">[snap_trig]</text></g><g transform="translate(1805.4,41.6)"><rect class="u pb"/><text class="z" x="24.5">dZ^-1q</text><use href="#m" x="2" y="-2"/><text class="l" x="23" y="18">Latency = 1</text></g><g transform="translate(1883,0)"><rect class="g sn"/><text class="p" x="4">din</text><text class="p" x="4" y="21">we</text><text class="p" x="4" y="41.6">trig</text><use href="#lk" x="1.5" y="34.5"/><text class="l" x="28" y="61">snap_1x2_1</text></g></g>
<g id="snap_1x3_0" transform="translate(0,909)"><g transform="translate(1774,0)"><rect class="u pb"/><text class="z" x="24.5">dZ^-1q</text><use href="#m" x="2" y="-2"/><text class="l" x="23" y="18">Latency = 1</text></g><g transform="translate(1836.7,21)"><rect class="f cn"/><text class="n" x="9">1</text></g><g transform="translate(1711.6,41.6)"><path class="a" d="M0-7.5h46l9.5 7.5-9.5 7.5h-46z"/><text class="t s" x="1" y="-1">[snap_trig]</text></g><g transform="translate(1805.4,41.6)"><rect class="u pb"/><text class="z" x="24.5">dZ^-1q</text><use href="#m" x="2" y="-2"/><text class="l" x="23" y="18">Latency = 1</text></g><g transform="translate(1883,0)"><rect class="g sn"/><text class="p" x="4">din</text><text class="p" x="4" y="21">we</text><text class="p" x="4" y="41.6">trig</text><use href="#lk" x="1.5" y="34.5"/><text class="l" x="28" y="61">snap_1x3_0</text></g></g>
<g id="snap_1x3_1" transform="translate(0,987)"><g transform="translate(1768.7,0)"><rect class="u pb"/><text class="z" x="24.5">dZ^-1q</text><use href="#m" x="2" y="-2"/><text class="l" x="23" y="18">Latency = 1</text></g><g transform="translate(1831.7,21)"><rect class="f cn"/><text class="n" x="9">1</text></g><g transform="translate(1711.6,41.6)"><path class="a" d="M0-7.5h46l9.5 7.5-9.5 7.5h-46z"/><text class="t s" x="1" y="-1">[snap_trig]</text></g><g transform="translate(1805.4,41.6)"><rect class="u pb"/><text class="z" x="24.5">dZ^-1q</text><use href="#m" x="2" y="-2"/><text class="l" x="23" y="18">Latency = 1</text></g><g transform="translate(1883,0)"><rect class="g sn"/><text class="p" x="4">din</text><text class="p" x="4" y="21">we</text><text class="p" x="4" y="41.6">trig</text><use href="#lk" x="1.5" y="34.5"/><text class="l" x="28" y="61">snap_1x3_1</text></g></g>
<g id="snap_2x3_0" transform="translate(0,1080.7)"><g transform="translate(1774,0)"><rect class="u pb"/><text class="z" x="24.5">dZ^-1q</text><use href="#m" x="2" y="-2"/><text class="l" x="23" y="18">Latency = 1</text></g><g transform="translate(1811.7,21)"><rect class="f cn"/><text class="n" x="9">1</text></g><g transform="translate(1706.6,41.6)"><path class="a" d="M0-7.5h46l9.5 7.5-9.5 7.5h-46z"/><text class="t s" x="1" y="-1">[snap_trig]</text></g><g transform="translate(1800.4,41.6)"><rect class="u pb"/><text class="z" x="24.5">dZ^-1q</text><use href="#m" x="2" y="-2"/><text class="l" x="23" y="18">Latency = 1</text></g><g transform="translate(1883,0)"><rect class="g sn"/><text class="p" x="4">din</text><text class="p" x="4" y="21">we</text><text class="p" x="4" y="41.6">trig</text><use href="#lk" x="1.5" y="34.5"/><text class="l" x="28" y="61">snap_2x3_0</text></g></g>
<g id="snap_2x3_1" transform="translate(0,1163.7)"><g transform="translate(1774,0)"><rect class="u pb"/><text class="z" x="24.5">dZ^-1q</text><use href="#m" x="2" y="-2"/><text class="l" x="23" y="18">Latency = 1</text></g><g transform="translate(1836.7,21)"><rect class="f cn"/><text class="n" x="9">1</text></g><g transform="translate(1711.6,41.6)"><path class="a" d="M0-7.5h46l9.5 7.5-9.5 7.5h-46z"/><text class="t s" x="1" y="-1">[snap_trig]</text></g><g transform="translate(1805.4,41.6)"><rect class="u pb"/><text class="z" x="24.5">dZ^-1q</text><use href="#m" x="2" y="-2"/><text class="l" x="23" y="18">Latency = 1</text></g><g transform="translate(1883,0)"><rect class="g sn"/><text class="p" x="4">din</text><text class="p" x="4" y="21">we</text><text class="p" x="4" y="41.6">trig</text><use href="#lk" x="1.5" y="34.5"/><text class="l" x="28" y="61">snap_2x3_1</text></g></g>

<g id="wire-labels">
<g class="wr"><text x="52" y="494.7">double D1</text></g>
<g class="wq"><text x="1101.8" y="203.7">UFix_32_0 Inf</text><text x="701.7" y="832.7">UFix_4_0 Inf</text><text x="1107" y="916">UFix_3_0 Inf</text><text x="156.3" y="1088">UFix_16_0 Inf</text><text x="161.7" y="1140">UFix_32_0 Inf</text><text x="1247.7" y="1035.7">UFix_8_0 Inf</text><text x="1247.7" y="1097.7">UFix_8_0 Inf</text></g>
<g class="w">
<text x="109" y="366">double D3</text><text x="114" y="818">double D3</text>
<text x="307" y="168">Fix_8_7 D3</text><text x="307" y="183.6">Fix_8_7 D3</text><text x="307" y="199.2">Fix_8_7 D3</text><text x="307" y="214.8">Fix_8_7 D3</text><text x="307" y="230.4">Fix_8_7 D3</text><text x="307" y="246">Fix_8_7 D3</text><text x="307" y="261.6">Fix_8_7 D3</text><text x="307" y="277.2">Fix_8_7 D3</text>
<text x="307" y="292.7">Bool D3</text><text x="307" y="308.3">Bool D3</text><text x="307" y="323.9">Bool D3</text><text x="307" y="339.5">Bool D3</text><text x="307" y="355.1">Bool D3</text><text x="307" y="370.7">Bool D3</text><text x="307" y="386.3">Bool D3</text><text x="307" y="401.9">Bool D3</text><text x="307" y="417.5">Bool D3</text>
<text x="307" y="620">Fix_8_7 D3</text><text x="307" y="635.6">Fix_8_7 D3</text><text x="307" y="651.2">Fix_8_7 D3</text><text x="307" y="666.8">Fix_8_7 D3</text><text x="307" y="682.4">Fix_8_7 D3</text><text x="307" y="698">Fix_8_7 D3</text><text x="307" y="713.6">Fix_8_7 D3</text><text x="307" y="729.2">Fix_8_7 D3</text>
<text x="307" y="744.7">Bool D3</text><text x="307" y="760.3">Bool D3</text><text x="307" y="775.9">Bool D3</text><text x="307" y="791.5">Bool D3</text><text x="307" y="807.1">Bool D3</text><text x="307" y="822.7">Bool D3</text><text x="307" y="838.3">Bool D3</text><text x="307" y="853.9">Bool D3</text><text x="307" y="869.5">Bool D3</text>
<text x="374.7" y="319">Bool D3</text><text x="374.7" y="771">Bool D3</text>
<text x="624" y="193">UFix_32_0 D3</text><text x="624" y="266.5">UFix_32_0 D3</text><text x="624" y="624.5">UFix_32_0 D3</text><text x="624" y="707.5">UFix_32_0 D3</text>
<text x="624" y="329">Fix_8_7 D3</text><text x="624" y="344.6">Fix_8_7 D3</text><text x="624" y="360.2">Fix_8_7 D3</text><text x="624" y="375.8">Fix_8_7 D3</text><text x="624" y="391.4">Fix_8_7 D3</text><text x="624" y="407">Fix_8_7 D3</text><text x="624" y="422.6">Fix_8_7 D3</text><text x="624" y="438.2">Fix_8_7 D3</text><text x="624" y="453.8">Fix_8_7 D3</text><text x="624" y="469.4">Fix_8_7 D3</text><text x="624" y="485">Fix_8_7 D3</text><text x="624" y="500.6">Fix_8_7 D3</text><text x="624" y="516.2">Fix_8_7 D3</text><text x="624" y="531.8">Fix_8_7 D3</text><text x="624" y="547.4">Fix_8_7 D3</text><text x="624" y="563">Fix_8_7 D3</text>
<text x="707" y="292.7">Bool D3</text>
<text x="795" y="11.7">double D3</text><text x="790" y="38">double D3</text><text x="790" y="90">double D3</text><text x="790" y="142">double D3</text>
<text x="977.5" y="11.7">UFix_12_0 D3</text><text x="977.5" y="38">Bool D3</text><text x="977.5" y="64">Bool D3</text><text x="977.5" y="90">Bool D3</text><text x="977.5" y="116">Bool D3</text><text x="977.5" y="142">Bool D3</text>
<text x="1076" y="11.7">UFix_12_0 D3</text><text x="1076" y="38">Bool D3</text><text x="1076" y="64">Bool D3</text><text x="1076" y="90">Bool D3</text><text x="1076" y="116">Bool D3</text><text x="1076" y="142">Bool D3</text>
<text x="842" y="198.7">Bool D3</text><text x="940.6" y="198.7">Bool D3</text><text x="1257.7" y="203.7">UFix_32_0 D3</text><text x="1382" y="214.7">Bool D3</text>
<text x="1148.6" y="276.7">Bool D3</text><text x="1252.7" y="276.7">Bool D3</text><text x="847.3" y="314">Bool D3</text>
<text x="847.3" y="339">UFix_36_0 D3</text><text x="847.3" y="365">UFix_36_0 D3</text><text x="847.3" y="391">UFix_36_0 D3</text><text x="847.3" y="417">UFix_36_0 D3</text><text x="847.3" y="443">UFix_36_0 D3</text><text x="847.3" y="469">UFix_36_0 D3</text><text x="847.3" y="495">UFix_36_0 D3</text><text x="847.3" y="521">UFix_36_0 D3</text><text x="847.3" y="547">UFix_4_0 D3</text>
<text x="966.7" y="355">UFix_72_0 D3</text><text x="966.7" y="407">UFix_72_0 D3</text><text x="966.7" y="459">UFix_72_0 D3</text><text x="966.7" y="511">UFix_72_0 D3</text>
<text x="1148.6" y="303">UFix_148_0 D3</text><text x="1148.6" y="329">UFix_148_0 D3</text><text x="1148.6" y="355">UFix_148_0 D3</text><text x="1148.6" y="381">UFix_148_0 D3</text><text x="1148.6" y="407">UFix_148_0 D3</text><text x="1148.6" y="433">UFix_148_0 D3</text><text x="1148.6" y="459">UFix_148_0 D3</text><text x="1148.6" y="485">UFix_148_0 D3</text><text x="1148.6" y="511">UFix_148_0 D3</text><text x="1148.6" y="537">UFix_148_0 D3</text>
<text x="1382" y="287">Bool D3</text><text x="1382" y="313">UFix_256_0 D3</text><text x="1382" y="339">UFix_256_0 D3</text><text x="1382" y="365">UFix_256_0 D3</text><text x="1382" y="391">UFix_256_0 D3</text><text x="1382" y="417">UFix_256_0 D3</text><text x="1382" y="443">UFix_256_0 D3</text><text x="1382" y="469">UFix_256_0 D3</text><text x="1382" y="495">Bool D3</text>
<text x="1060.4" y="599">Bool D3</text><text x="1138.3" y="599">Bool D3</text><text x="1050" y="635.7">Bool D3</text><text x="1143.3" y="635.7">Bool D3</text><text x="1231.5" y="620">Bool D3</text>
<text x="1013.5" y="707.7">Bool D3</text><text x="1091.5" y="707.7">Bool D3</text><text x="1013.5" y="733.7">Bool D3</text><text x="1106.7" y="733.7">Bool D3</text><text x="1205.4" y="724">UFix_32_0 D3</text><text x="1315" y="724">UFix_32_0 D3</text><text x="1476" y="724">UFix_32_0 D3</text>
<text x="634.7" y="785.7">Bool D3</text><text x="613.3" y="811">UFix_4_0 D3</text><text x="696.7" y="811.3">UFix_4_0 D3</text><text x="795.7" y="822.7">Bool D3</text><text x="629.3" y="868.7">Bool D3</text>
<text x="623.7" y="910.7">Bool D3</text><text x="623.7" y="931.7">Bool D3</text><text x="712.3" y="910.7">Bool D3</text><text x="712.3" y="931.7">Bool D3</text><text x="795.7" y="920.7">Bool D3</text>
<text x="909.5" y="817.7">Bool D3</text><text x="909.5" y="869">Bool D3</text><text x="909.5" y="921">Bool D3</text>
<text x="1039.6" y="869">UFix_3_0 D3</text><text x="1112.7" y="838">UFix_3_0 D3</text><text x="1195.7" y="838">UFix_8_0 D3</text><text x="1206" y="906">Bool D3</text><text x="1356.7" y="906">Bool D3</text>
<text x="327.9" y="999">Bool D3</text><text x="327.9" y="1025">Bool D3</text><text x="327.9" y="1069">UFix_32_0 D3</text><text x="431.9" y="999">Bool D3</text><text x="431.9" y="1025">Bool D3</text><text x="431.9" y="1050.7">UFix_32_0 D3</text>
<text x="307" y="1093">UFix_16_0 D3</text><text x="415.8" y="1139.7">UFix_32_7 D3</text>
<text x="686" y="1025">UFix_32_7 D3</text><text x="582.4" y="1066.7">Bool D3</text><text x="582.4" y="1107.7">UFix_32_0 D3</text><text x="686" y="1107.7">UFix_32_0 D3</text>
<text x="1003" y="1056">UFix_32_0 D3</text><text x="1003" y="1077">UFix_32_0 D3</text><text x="1003" y="1118.7">UFix_32_0 D3</text><text x="1003" y="1139.3">UFix_32_0 D3</text>
<text x="1106.7" y="1056">UFix_32_0 D3</text><text x="1106.7" y="1077">UFix_32_0 D3</text><text x="1106.7" y="1118.7">UFix_32_0 D3</text><text x="1106.7" y="1139.3">UFix_32_0 D3</text>
<text x="1221.2" y="1056">UFix_32_0 D3</text><text x="1221.2" y="1077">UFix_32_0 D3</text><text x="1221.2" y="1118.7">UFix_32_0 D3</text><text x="1221.2" y="1139.3">UFix_32_0 D3</text>
<text x="1278" y="1171">Bool D3</text><text x="1361.7" y="1170.7">Bool D3</text><text x="1340.4" y="1087.7">UFix_144_0 D3</text><text x="1470.5" y="1128.7">Bool D3</text>
<text x="1595" y="74.7">UFix_256_0 D3</text><text x="1595" y="246">UFix_256_0 D3</text><text x="1600" y="417">UFix_256_0 D3</text><text x="1600" y="594">UFix_256_0 D3</text><text x="1600" y="776">UFix_256_0 D3</text><text x="1600" y="942">UFix_256_0 D3</text><text x="1600" y="1113.7">UFix_256_0 D3</text>
<text x="1694" y="53.7">UFix_128_0 D3</text><text x="1694" y="94.7">UFix_128_0 D3</text><text x="1694" y="225">UFix_128_0 D3</text><text x="1694" y="266.7">UFix_128_0 D3</text>
<text x="1699" y="396">UFix_128_0 D3</text><text x="1699" y="437.7">UFix_128_0 D3</text><text x="1699" y="573">UFix_128_0 D3</text><text x="1699" y="614.7">UFix_128_0 D3</text>
<text x="1699" y="755">UFix_128_0 D3</text><text x="1699" y="796.7">UFix_128_0 D3</text><text x="1699" y="921">UFix_128_0 D3</text><text x="1699" y="962.7">UFix_128_0 D3</text>
<text x="1699" y="1092.7">UFix_128_0 D3</text><text x="1699" y="1134">UFix_128_0 D3</text>
<g transform="translate(0,41.7)"><text x="1823.7" y="-9">UFix_128_0 D3</text><text x="1855.5" y="12">Bool D3</text><text x="1772" y="33">Bool D3</text><text x="1855.5" y="33">Bool D3</text></g>
<g transform="translate(0,119.3)"><text x="1808" y="-9">UFix_128_0 D3</text><text x="1855.5" y="12">Bool D3</text><text x="1772" y="33">Bool D3</text><text x="1855.5" y="33">Bool D3</text></g>
<g transform="translate(0,212.7)"><text x="1823.7" y="-9">UFix_128_0 D3</text><text x="1850" y="12">Bool D3</text><text x="1767" y="33">Bool D3</text><text x="1850" y="33">Bool D3</text></g>
<g transform="translate(0,291)"><text x="1823.7" y="-9">UFix_128_0 D3</text><text x="1855.5" y="12">Bool D3</text><text x="1772" y="33">Bool D3</text><text x="1855.5" y="33">Bool D3</text></g>
<g transform="translate(0,384.3)"><text x="1823.7" y="-9">UFix_128_0 D3</text><text x="1855.5" y="12">Bool D3</text><text x="1772" y="33">Bool D3</text><text x="1855.5" y="33">Bool D3</text></g>
<g transform="translate(0,462.7)"><text x="1823.7" y="-9">UFix_128_0 D3</text><text x="1850" y="12">Bool D3</text><text x="1772" y="33">Bool D3</text><text x="1855.5" y="33">Bool D3</text></g>
<g transform="translate(0,555.7)"><text x="1823.7" y="-9">UFix_128_0 D3</text><text x="1855.5" y="12">Bool D3</text><text x="1772" y="33">Bool D3</text><text x="1855.5" y="33">Bool D3</text></g>
<g transform="translate(0,638.7)"><text x="1823.7" y="-9">UFix_128_0 D3</text><text x="1855.5" y="12">Bool D3</text><text x="1772" y="33">Bool D3</text><text x="1855.5" y="33">Bool D3</text></g>
<g transform="translate(0,737.7)"><text x="1823.7" y="-9">UFix_128_0 D3</text><text x="1855.5" y="12">Bool D3</text><text x="1772" y="33">Bool D3</text><text x="1855.5" y="33">Bool D3</text></g>
<g transform="translate(0,815.7)"><text x="1823.7" y="9">UFix_128_0 D3</text><text x="1855.5" y="11.6">Bool D3</text><text x="1782.5" y="33">Bool D3</text><text x="1855.5" y="33">Bool D3</text></g>
<g transform="translate(0,909)"><text x="1823.7" y="-9">UFix_128_0 D3</text><text x="1855.5" y="12">Bool D3</text><text x="1772" y="33">Bool D3</text><text x="1855.5" y="33">Bool D3</text></g>
<g transform="translate(0,987)"><text x="1818.7" y="-9">UFix_128_0 D3</text><text x="1850" y="12">Bool D3</text><text x="1772" y="33">Bool D3</text><text x="1855.5" y="33">Bool D3</text></g>
<g transform="translate(0,1080.7)"><text x="1823.7" y="-9">UFix_128_0 D3</text><text x="1829" y="12">Bool D3</text><text x="1767" y="33">Bool D3</text><text x="1850" y="33">Bool D3</text></g>
<g transform="translate(0,1163.7)"><text x="1823.7" y="-9">UFix_128_0 D3</text><text x="1855.5" y="12">Bool D3</text><text x="1772" y="33">Bool D3</text><text x="1855.5" y="33">Bool D3</text></g>
</g>
</g>
</svg>
